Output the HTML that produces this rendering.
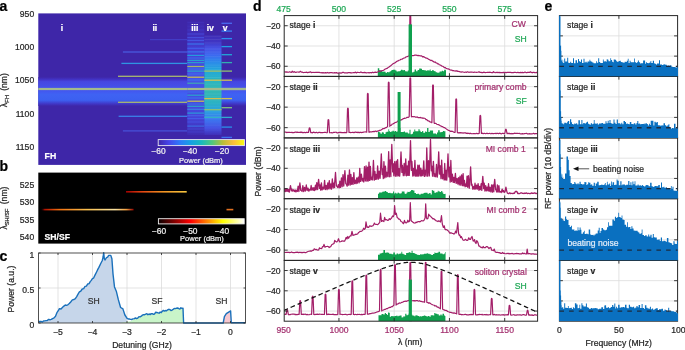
<!DOCTYPE html><html><head><meta charset="utf-8"><style>html,body{margin:0;padding:0;background:#fff;}svg{display:block;will-change:transform;}</style></head><body><svg width="685" height="350" viewBox="0 0 685 350" font-family="'Liberation Sans', sans-serif">
<defs>
<linearGradient id="gpar" x1="0" x2="1" y1="0" y2="0"><stop offset="0.0" stop-color="#3e26a8"/><stop offset="0.125" stop-color="#4646eb"/><stop offset="0.25" stop-color="#2d78fa"/><stop offset="0.375" stop-color="#16a0e4"/><stop offset="0.5" stop-color="#19b9be"/><stop offset="0.625" stop-color="#50c87d"/><stop offset="0.75" stop-color="#b9be37"/><stop offset="0.875" stop-color="#fcbe3c"/><stop offset="1.0" stop-color="#f9fb0e"/></linearGradient>
<linearGradient id="ghot" x1="0" x2="1" y1="0" y2="0"><stop offset="0.0" stop-color="#0a0000"/><stop offset="0.375" stop-color="#ff0000"/><stop offset="0.75" stop-color="#ffff00"/><stop offset="1.0" stop-color="#ffffff"/></linearGradient>
<linearGradient id="gband" x1="0" x2="0" y1="0" y2="1">
<stop offset="0" stop-color="#3e26a8"/><stop offset="0.08" stop-color="#4232c4"/><stop offset="0.16" stop-color="#4647e0"/>
<stop offset="0.45" stop-color="#4455ee"/><stop offset="0.6" stop-color="#3f62f3"/><stop offset="0.8" stop-color="#3c60f0"/>
<stop offset="0.92" stop-color="#4038c8"/><stop offset="1" stop-color="#3e26a8"/></linearGradient>
</defs>
<rect x="0" y="0" width="685" height="350" fill="#ffffff"/>
<rect x="38.3" y="13.4" width="207.7" height="151.5" fill="#3e26a8"/>
<rect x="38.3" y="77" width="207.7" height="29" fill="url(#gband)"/>
<rect x="38.3" y="87.9" width="207.7" height="2.2" fill="#a3ba8c"/>
<rect x="122.9" y="51.35" width="64.40" height="1.3" fill="#4a62e8" opacity="0.85"/>
<rect x="121.4" y="62.75" width="65.90" height="1.3" fill="#2f94e2" opacity="1"/>
<rect x="118" y="75.65" width="69.30" height="1.3" fill="#a6b872" opacity="1"/>
<rect x="118" y="101.65" width="69.30" height="1.3" fill="#a6b872" opacity="1"/>
<rect x="118.6" y="115.65" width="68.70" height="1.3" fill="#3a80e8" opacity="1"/>
<rect x="122.9" y="130.25" width="64.40" height="1.3" fill="#4a5ae4" opacity="0.8"/>
<rect x="150" y="39.1" width="37.3" height="1.1" fill="#4a50e0" opacity="0.6"/>
<linearGradient id="giii" x1="0" x2="0" y1="0" y2="1"><stop offset="0" stop-color="#3e28ac"/><stop offset="0.12" stop-color="#3f2eb8"/><stop offset="0.25" stop-color="#4240d4"/><stop offset="0.45" stop-color="#4452e6"/><stop offset="0.6" stop-color="#4452e6"/><stop offset="0.85" stop-color="#4444d8"/><stop offset="1" stop-color="#3e2cb0"/></linearGradient>
<rect x="187.3" y="21" width="17" height="114" fill="url(#giii)"/>
<rect x="187.3" y="22.00" width="17" height="1.2" fill="#4a40d0" opacity="0.25"/>
<rect x="187.3" y="25.60" width="17" height="1.2" fill="#4844cc" opacity="0.25"/>
<rect x="187.3" y="29.40" width="17" height="1.2" fill="#4848d8" opacity="0.35"/>
<rect x="187.3" y="33.40" width="17" height="1.2" fill="#4a55e6" opacity="0.6"/>
<rect x="187.3" y="37.00" width="17" height="1.2" fill="#4a5ae8" opacity="0.7"/>
<rect x="187.3" y="39.80" width="17" height="1.2" fill="#4660ee" opacity="0.75"/>
<rect x="187.3" y="43.40" width="17" height="1.2" fill="#3a78f0" opacity="0.9"/>
<rect x="187.3" y="47.70" width="17" height="1.2" fill="#4466f0" opacity="0.8"/>
<rect x="187.3" y="51.30" width="17" height="1.2" fill="#3a80f0" opacity="0.85"/>
<rect x="187.3" y="54.80" width="17" height="1.2" fill="#22a4dc" opacity="0.9"/>
<rect x="187.3" y="57.40" width="17" height="1.2" fill="#3a78f0" opacity="0.7"/>
<rect x="187.3" y="59.80" width="17" height="1.2" fill="#22aad0" opacity="0.9"/>
<rect x="187.3" y="62.00" width="17" height="1.2" fill="#28b0c8" opacity="0.8"/>
<rect x="187.3" y="65.90" width="17" height="1.2" fill="#a8c060" opacity="0.95"/>
<rect x="187.3" y="68.40" width="17" height="1.2" fill="#3a80f0" opacity="0.7"/>
<rect x="187.3" y="70.50" width="17" height="1.2" fill="#28b0c8" opacity="0.9"/>
<rect x="187.3" y="73.40" width="17" height="1.2" fill="#3a78f0" opacity="0.7"/>
<rect x="187.3" y="76.60" width="17" height="1.2" fill="#ccc050" opacity="1"/>
<rect x="187.3" y="79.40" width="17" height="1.2" fill="#3a80f0" opacity="0.7"/>
<rect x="187.3" y="82.60" width="17" height="1.2" fill="#40b8a8" opacity="0.85"/>
<rect x="187.3" y="91.40" width="17" height="1.2" fill="#3a78f0" opacity="0.7"/>
<rect x="187.3" y="94.60" width="17" height="1.2" fill="#28b0c8" opacity="0.9"/>
<rect x="187.3" y="97.40" width="17" height="1.2" fill="#3a80f0" opacity="0.7"/>
<rect x="187.3" y="100.60" width="17" height="1.2" fill="#ccc050" opacity="1"/>
<rect x="187.3" y="103.40" width="17" height="1.2" fill="#3a78f0" opacity="0.7"/>
<rect x="187.3" y="105.70" width="17" height="1.2" fill="#28b0c8" opacity="0.9"/>
<rect x="187.3" y="108.70" width="17" height="1.2" fill="#3a90e8" opacity="0.8"/>
<rect x="187.3" y="112.50" width="17" height="1.2" fill="#28a8d8" opacity="0.85"/>
<rect x="187.3" y="115.10" width="17" height="1.2" fill="#4a6aee" opacity="0.7"/>
<rect x="187.3" y="118.00" width="17" height="1.2" fill="#4466f0" opacity="0.7"/>
<rect x="187.3" y="121.40" width="17" height="1.2" fill="#4858e8" opacity="0.6"/>
<rect x="187.3" y="125.50" width="17" height="1.2" fill="#3a80f0" opacity="0.7"/>
<rect x="187.3" y="128.40" width="17" height="1.2" fill="#4a50e0" opacity="0.5"/>
<rect x="187.3" y="131.40" width="17" height="1.2" fill="#4a48d8" opacity="0.4"/>
<linearGradient id="giv" x1="0" x2="0" y1="35" y2="135" gradientUnits="userSpaceOnUse"><stop offset="0" stop-color="#3f2cb4"/><stop offset="0.07" stop-color="#4036c4"/><stop offset="0.13" stop-color="#4450e4"/><stop offset="0.2" stop-color="#3c68f0"/><stop offset="0.27" stop-color="#2c8aea"/><stop offset="0.35" stop-color="#22a6da"/><stop offset="0.45" stop-color="#2ab4c2"/><stop offset="0.55" stop-color="#34b8b2"/><stop offset="0.68" stop-color="#2ab2c4"/><stop offset="0.76" stop-color="#2aa0e0"/><stop offset="0.84" stop-color="#3a78f0"/><stop offset="0.93" stop-color="#4452e4"/><stop offset="1" stop-color="#4030b8"/></linearGradient>
<rect x="204.3" y="35" width="17.2" height="100" fill="url(#giv)"/>
<rect x="204.3" y="36.00" width="17.2" height="0.8" fill="#ffffff" opacity="0.07"/>
<rect x="204.3" y="39.11" width="17.2" height="0.8" fill="#ffffff" opacity="0.09"/>
<rect x="204.3" y="42.53" width="17.2" height="0.8" fill="#ffffff" opacity="0.08"/>
<rect x="204.3" y="45.91" width="17.2" height="0.8" fill="#ffffff" opacity="0.03"/>
<rect x="204.3" y="48.61" width="17.2" height="0.8" fill="#ffffff" opacity="0.10"/>
<rect x="204.3" y="51.58" width="17.2" height="0.8" fill="#ffffff" opacity="0.09"/>
<rect x="204.3" y="53.75" width="17.2" height="0.8" fill="#ffffff" opacity="0.06"/>
<rect x="204.3" y="56.12" width="17.2" height="0.8" fill="#ffffff" opacity="0.07"/>
<rect x="204.3" y="58.98" width="17.2" height="0.8" fill="#ffffff" opacity="0.03"/>
<rect x="204.3" y="61.31" width="17.2" height="0.8" fill="#ffffff" opacity="0.05"/>
<rect x="204.3" y="64.68" width="17.2" height="0.8" fill="#ffffff" opacity="0.08"/>
<rect x="204.3" y="66.92" width="17.2" height="0.8" fill="#ffffff" opacity="0.09"/>
<rect x="204.3" y="69.13" width="17.2" height="0.8" fill="#ffffff" opacity="0.07"/>
<rect x="204.3" y="71.32" width="17.2" height="0.8" fill="#ffffff" opacity="0.03"/>
<rect x="204.3" y="74.63" width="17.2" height="0.8" fill="#ffffff" opacity="0.04"/>
<rect x="204.3" y="76.95" width="17.2" height="0.8" fill="#ffffff" opacity="0.10"/>
<rect x="204.3" y="80.26" width="17.2" height="0.8" fill="#ffffff" opacity="0.05"/>
<rect x="204.3" y="83.70" width="17.2" height="0.8" fill="#ffffff" opacity="0.07"/>
<rect x="204.3" y="86.72" width="17.2" height="0.8" fill="#ffffff" opacity="0.04"/>
<rect x="204.3" y="90.13" width="17.2" height="0.8" fill="#ffffff" opacity="0.08"/>
<rect x="204.3" y="93.58" width="17.2" height="0.8" fill="#ffffff" opacity="0.09"/>
<rect x="204.3" y="96.03" width="17.2" height="0.8" fill="#ffffff" opacity="0.06"/>
<rect x="204.3" y="98.28" width="17.2" height="0.8" fill="#ffffff" opacity="0.04"/>
<rect x="204.3" y="100.37" width="17.2" height="0.8" fill="#ffffff" opacity="0.05"/>
<rect x="204.3" y="103.28" width="17.2" height="0.8" fill="#ffffff" opacity="0.03"/>
<rect x="204.3" y="106.30" width="17.2" height="0.8" fill="#ffffff" opacity="0.05"/>
<rect x="204.3" y="108.76" width="17.2" height="0.8" fill="#ffffff" opacity="0.09"/>
<rect x="204.3" y="111.48" width="17.2" height="0.8" fill="#ffffff" opacity="0.05"/>
<rect x="204.3" y="114.20" width="17.2" height="0.8" fill="#ffffff" opacity="0.08"/>
<rect x="204.3" y="116.29" width="17.2" height="0.8" fill="#ffffff" opacity="0.10"/>
<rect x="204.3" y="118.32" width="17.2" height="0.8" fill="#ffffff" opacity="0.08"/>
<rect x="204.3" y="121.59" width="17.2" height="0.8" fill="#ffffff" opacity="0.03"/>
<rect x="204.3" y="124.77" width="17.2" height="0.8" fill="#ffffff" opacity="0.06"/>
<rect x="204.3" y="127.64" width="17.2" height="0.8" fill="#ffffff" opacity="0.03"/>
<rect x="204.3" y="129.71" width="17.2" height="0.8" fill="#ffffff" opacity="0.04"/>
<rect x="204.3" y="70.44999999999999" width="17.2" height="1.3" fill="#a0c068"/>
<rect x="204.3" y="79.55" width="17.2" height="1.3" fill="#d0c050"/>
<rect x="204.3" y="97.94999999999999" width="17.2" height="1.3" fill="#d0c050"/>
<rect x="204.3" y="109.05" width="17.2" height="1.3" fill="#90c070"/>
<rect x="204.3" y="116.75" width="17.2" height="1.3" fill="#30b0c8"/>
<rect x="221.5" y="22.65" width="10.5" height="1.3" fill="#4a6af0"/>
<rect x="221.5" y="30.45" width="10.5" height="1.3" fill="#3a80f0"/>
<rect x="221.5" y="37.95" width="10.5" height="1.3" fill="#2a90f0"/>
<rect x="221.5" y="45.95" width="10.5" height="1.3" fill="#20a0e8"/>
<rect x="221.5" y="54.05" width="10.5" height="1.3" fill="#20a8d8"/>
<rect x="221.5" y="61.95" width="10.5" height="1.3" fill="#30b0b0"/>
<rect x="221.5" y="70.45" width="10.5" height="1.3" fill="#90c070"/>
<rect x="221.5" y="79.55" width="10.5" height="1.3" fill="#d0c050"/>
<rect x="221.5" y="97.95" width="10.5" height="1.3" fill="#d0c050"/>
<rect x="221.5" y="107.05" width="10.5" height="1.3" fill="#80c080"/>
<rect x="221.5" y="116.75" width="10.5" height="1.3" fill="#30aad0"/>
<rect x="221.5" y="126.45" width="10.5" height="1.3" fill="#2a90e8"/>
<rect x="221.5" y="136.75" width="10.5" height="1.3" fill="#4070f0"/>
<rect x="187.3" y="87.9" width="58.70" height="2.2" fill="#a3ba8c"/>
<text x="62.00" y="31.20" font-size="8.6" text-anchor="middle" fill="#ffffff" stroke="#ffffff" stroke-width="0.22" font-weight="bold" >i</text>
<text x="154.80" y="31.20" font-size="8.6" text-anchor="middle" fill="#ffffff" stroke="#ffffff" stroke-width="0.22" font-weight="bold" >ii</text>
<text x="194.80" y="31.20" font-size="8.6" text-anchor="middle" fill="#ffffff" stroke="#ffffff" stroke-width="0.22" font-weight="bold" >iii</text>
<text x="210.30" y="31.20" font-size="8.6" text-anchor="middle" fill="#ffffff" stroke="#ffffff" stroke-width="0.22" font-weight="bold" >iv</text>
<text x="225.20" y="31.20" font-size="8.6" text-anchor="middle" fill="#ffffff" stroke="#ffffff" stroke-width="0.22" font-weight="bold" >v</text>
<text x="44.60" y="159.20" font-size="8.7" text-anchor="start" fill="#ffffff" stroke="#ffffff" stroke-width="0.22" font-weight="bold" >FH</text>
<rect x="158.2" y="139.6" width="86.2" height="6" fill="url(#gpar)" stroke="#e8e8f0" stroke-width="0.9"/>
<text x="158.50" y="154.30" font-size="8.4" text-anchor="middle" fill="#f2f2f2" stroke="#f2f2f2" stroke-width="0.22" font-weight="normal" >−60</text>
<text x="190.00" y="154.30" font-size="8.4" text-anchor="middle" fill="#f2f2f2" stroke="#f2f2f2" stroke-width="0.22" font-weight="normal" >−40</text>
<text x="222.00" y="154.30" font-size="8.4" text-anchor="middle" fill="#f2f2f2" stroke="#f2f2f2" stroke-width="0.22" font-weight="normal" >−20</text>
<text x="201.00" y="162.70" font-size="7.5" text-anchor="middle" fill="#f2f2f2" stroke="#f2f2f2" stroke-width="0.22" font-weight="normal" >Power (dBm)</text>
<text x="34.20" y="16.60" font-size="8.6" text-anchor="end" fill="#262626" stroke="#262626" stroke-width="0.22" font-weight="normal" >950</text>
<text x="34.20" y="49.92" font-size="8.6" text-anchor="end" fill="#262626" stroke="#262626" stroke-width="0.22" font-weight="normal" >1000</text>
<text x="34.20" y="83.25" font-size="8.6" text-anchor="end" fill="#262626" stroke="#262626" stroke-width="0.22" font-weight="normal" >1050</text>
<text x="34.20" y="116.57" font-size="8.6" text-anchor="end" fill="#262626" stroke="#262626" stroke-width="0.22" font-weight="normal" >1100</text>
<text x="34.20" y="149.90" font-size="8.6" text-anchor="end" fill="#262626" stroke="#262626" stroke-width="0.22" font-weight="normal" >1150</text>
<text transform="translate(7.3,90.2) rotate(-90)" font-size="8.6" text-anchor="middle" fill="#262626" stroke="#262626" stroke-width="0.22">λ<tspan font-size="6.2" dy="2">FH</tspan><tspan dy="-2" dx="1.5"> (nm)</tspan></text>
<rect x="38.3" y="172.6" width="208.10000000000002" height="71.0" fill="#000000"/>
<linearGradient id="gl1" x1="0" x2="1"><stop offset="0" stop-color="#400000" stop-opacity="0"/><stop offset="0.04" stop-color="#b01000"/><stop offset="0.2" stop-color="#f07010"/><stop offset="0.5" stop-color="#f8c050"/><stop offset="0.8" stop-color="#f8e0a0"/><stop offset="0.92" stop-color="#f0a040"/><stop offset="1" stop-color="#900000"/></linearGradient>
<rect x="41" y="208.8" width="92.6" height="1.6" fill="url(#gl1)"/>
<linearGradient id="gl2" x1="0" x2="1"><stop offset="0" stop-color="#a00000"/><stop offset="0.25" stop-color="#e04010"/><stop offset="0.6" stop-color="#f09020"/><stop offset="1" stop-color="#f8c840"/></linearGradient>
<rect x="126" y="191" width="60.7" height="1.6" fill="url(#gl2)"/>
<rect x="226.5" y="208.8" width="6.8" height="1.6" fill="#e07020"/>
<text x="44.60" y="240.20" font-size="8.6" text-anchor="start" fill="#ffffff" stroke="#ffffff" stroke-width="0.22" font-weight="bold" >SH/SF</text>
<rect x="158.4" y="218.7" width="85.8" height="5.2" fill="url(#ghot)" stroke="#f0f0f0" stroke-width="0.9"/>
<text x="159.00" y="234.00" font-size="8.4" text-anchor="middle" fill="#f2f2f2" stroke="#f2f2f2" stroke-width="0.22" font-weight="normal" >−60</text>
<text x="190.40" y="234.00" font-size="8.4" text-anchor="middle" fill="#f2f2f2" stroke="#f2f2f2" stroke-width="0.22" font-weight="normal" >−50</text>
<text x="222.00" y="234.00" font-size="8.4" text-anchor="middle" fill="#f2f2f2" stroke="#f2f2f2" stroke-width="0.22" font-weight="normal" >−40</text>
<text x="202.00" y="241.40" font-size="7.5" text-anchor="middle" fill="#f2f2f2" stroke="#f2f2f2" stroke-width="0.22" font-weight="normal" >Power (dBm)</text>
<text x="34.20" y="188.30" font-size="8.6" text-anchor="end" fill="#262626" stroke="#262626" stroke-width="0.22" font-weight="normal" >525</text>
<text x="34.20" y="205.00" font-size="8.6" text-anchor="end" fill="#262626" stroke="#262626" stroke-width="0.22" font-weight="normal" >530</text>
<text x="34.20" y="222.60" font-size="8.6" text-anchor="end" fill="#262626" stroke="#262626" stroke-width="0.22" font-weight="normal" >535</text>
<text x="34.20" y="240.20" font-size="8.6" text-anchor="end" fill="#262626" stroke="#262626" stroke-width="0.22" font-weight="normal" >540</text>
<text transform="translate(7.3,208) rotate(-90)" font-size="8.6" text-anchor="middle" fill="#262626" stroke="#262626" stroke-width="0.22">λ<tspan font-size="5.6" dy="2">SH/SF</tspan><tspan dy="-2" dx="2"> (nm)</tspan></text>
<text x="-0.60" y="10.60" font-size="14" text-anchor="start" fill="#000000" stroke="#000000" stroke-width="0.22" font-weight="bold" >a</text>
<text x="-0.60" y="171.00" font-size="14" text-anchor="start" fill="#000000" stroke="#000000" stroke-width="0.22" font-weight="bold" >b</text>
<text x="-0.60" y="260.80" font-size="14" text-anchor="start" fill="#000000" stroke="#000000" stroke-width="0.22" font-weight="bold" >c</text>
<text x="252.90" y="10.60" font-size="14" text-anchor="start" fill="#000000" stroke="#000000" stroke-width="0.22" font-weight="bold" >d</text>
<text x="544.40" y="10.90" font-size="14" text-anchor="start" fill="#000000" stroke="#000000" stroke-width="0.22" font-weight="bold" >e</text>
<line x1="58.00" y1="253.0" x2="58.00" y2="323.0" stroke="#dcdcdc" stroke-width="0.8"/>
<line x1="92.50" y1="253.0" x2="92.50" y2="323.0" stroke="#dcdcdc" stroke-width="0.8"/>
<line x1="127.00" y1="253.0" x2="127.00" y2="323.0" stroke="#dcdcdc" stroke-width="0.8"/>
<line x1="161.50" y1="253.0" x2="161.50" y2="323.0" stroke="#dcdcdc" stroke-width="0.8"/>
<line x1="196.00" y1="253.0" x2="196.00" y2="323.0" stroke="#dcdcdc" stroke-width="0.8"/>
<line x1="230.50" y1="253.0" x2="230.50" y2="323.0" stroke="#dcdcdc" stroke-width="0.8"/>
<line x1="38.6" y1="288.00" x2="245.5" y2="288.00" stroke="#dcdcdc" stroke-width="0.8"/>
<polygon points="38.60,323.00 38.60,321.60 39.82,321.36 41.04,321.44 42.26,322.03 43.48,320.97 44.70,320.90 46.00,320.62 47.30,320.47 48.60,319.37 49.90,319.72 51.20,319.40 52.63,318.59 54.07,317.85 55.50,316.20 56.90,312.64 58.30,310.70 59.40,308.60 61.00,309.00 63.10,306.80 64.20,305.91 65.30,304.98 66.40,305.30 67.83,304.82 69.27,303.49 70.70,302.00 72.35,299.83 74.00,299.50 75.35,298.56 76.70,296.63 78.05,294.11 79.40,291.90 80.83,291.03 82.27,289.01 83.70,288.60 85.05,286.38 86.40,286.16 87.75,283.97 89.10,283.60 90.20,281.63 91.30,280.38 92.40,278.61 93.50,278.20 95.10,274.88 96.70,271.70 97.80,269.43 98.90,267.40 101.00,263.00 102.30,260.50 103.10,257.00 103.70,252.80 104.30,258.50 105.00,260.00 106.50,257.60 107.60,257.18 108.70,255.40 110.80,255.40 111.90,258.70 113.00,273.90 114.50,286.90 116.30,291.20 118.40,299.90 120.60,307.50 121.70,308.09 122.80,308.60 124.90,315.00 127.10,318.30 127.20,318.40 127.20,323.00" fill="#c6d6ea"/>
<polygon points="120.00,323.00 130.40,321.20 143.00,314.90 143.56,314.59 144.70,314.70 145.79,314.18 146.87,313.64 147.96,314.75 149.04,313.95 150.13,314.61 151.21,313.64 152.30,313.70 153.44,314.34 154.58,313.97 155.72,312.26 156.86,312.46 158.00,312.80 159.07,313.21 160.14,312.09 161.21,312.68 162.29,311.30 163.36,310.39 164.43,311.06 165.50,310.50 166.59,310.84 167.67,309.77 168.76,309.29 169.84,309.57 170.93,310.55 172.01,310.02 173.10,309.40 174.24,308.55 175.38,308.62 176.52,308.20 177.66,307.97 178.80,308.60 179.85,309.03 180.90,307.82 181.95,308.41 183.00,308.20 183.30,308.20 183.30,323.00" fill="#c9f5c9"/>
<polygon points="223.20,323.00 224.40,316.60 226.30,313.70 229.10,311.80 230.60,310.90 231.20,323.00" fill="#f7c8d0"/>
<polyline points="38.60,321.60 39.82,321.36 41.04,321.44 42.26,322.03 43.48,320.97 44.70,320.90 46.00,320.62 47.30,320.47 48.60,319.37 49.90,319.72 51.20,319.40 52.63,318.59 54.07,317.85 55.50,316.20 56.90,312.64 58.30,310.70 59.40,308.60 61.00,309.00 63.10,306.80 64.20,305.91 65.30,304.98 66.40,305.30 67.83,304.82 69.27,303.49 70.70,302.00 72.35,299.83 74.00,299.50 75.35,298.56 76.70,296.63 78.05,294.11 79.40,291.90 80.83,291.03 82.27,289.01 83.70,288.60 85.05,286.38 86.40,286.16 87.75,283.97 89.10,283.60 90.20,281.63 91.30,280.38 92.40,278.61 93.50,278.20 95.10,274.88 96.70,271.70 97.80,269.43 98.90,267.40 101.00,263.00 102.30,260.50 103.10,257.00 103.70,252.80 104.30,258.50 105.00,260.00 106.50,257.60 107.60,257.18 108.70,255.40 110.80,255.40 111.90,258.70 113.00,273.90 114.50,286.90 116.30,291.20 118.40,299.90 120.60,307.50 121.70,308.09 122.80,308.60 124.90,315.00 127.10,318.30 128.20,318.95 129.30,319.03 130.40,319.40 131.67,319.49 132.93,318.92 134.20,318.80 135.40,317.85 136.60,318.60 137.80,318.04 139.00,316.60 140.14,316.83 141.28,316.21 142.42,315.13 143.56,314.59 144.70,314.70 145.79,314.18 146.87,313.64 147.96,314.75 149.04,313.95 150.13,314.61 151.21,313.64 152.30,313.70 153.44,314.34 154.58,313.97 155.72,312.26 156.86,312.46 158.00,312.80 159.07,313.21 160.14,312.09 161.21,312.68 162.29,311.30 163.36,310.39 164.43,311.06 165.50,310.50 166.59,310.84 167.67,309.77 168.76,309.29 169.84,309.57 170.93,310.55 172.01,310.02 173.10,309.40 174.24,308.55 175.38,308.62 176.52,308.20 177.66,307.97 178.80,308.60 179.85,309.03 180.90,307.82 181.95,308.41 183.00,308.20 183.60,323.00 223.20,323.00 224.40,316.60 226.30,313.70 229.10,311.80 230.60,310.90 231.30,322.80 245.30,322.80" fill="none" stroke="#1a70bb" stroke-width="1.4" stroke-linejoin="round"/>
<rect x="38.6" y="253.0" width="206.9" height="70.0" fill="none" stroke="#262626" stroke-width="0.8"/>
<line x1="58.00" y1="323.0" x2="58.00" y2="321.00" stroke="#262626" stroke-width="0.8"/>
<line x1="58.00" y1="253.0" x2="58.00" y2="255.00" stroke="#262626" stroke-width="0.8"/>
<text x="58.00" y="334.70" font-size="8.6" text-anchor="middle" fill="#262626" stroke="#262626" stroke-width="0.22" font-weight="normal" >−5</text>
<line x1="92.50" y1="323.0" x2="92.50" y2="321.00" stroke="#262626" stroke-width="0.8"/>
<line x1="92.50" y1="253.0" x2="92.50" y2="255.00" stroke="#262626" stroke-width="0.8"/>
<text x="92.50" y="334.70" font-size="8.6" text-anchor="middle" fill="#262626" stroke="#262626" stroke-width="0.22" font-weight="normal" >−4</text>
<line x1="127.00" y1="323.0" x2="127.00" y2="321.00" stroke="#262626" stroke-width="0.8"/>
<line x1="127.00" y1="253.0" x2="127.00" y2="255.00" stroke="#262626" stroke-width="0.8"/>
<text x="127.00" y="334.70" font-size="8.6" text-anchor="middle" fill="#262626" stroke="#262626" stroke-width="0.22" font-weight="normal" >−3</text>
<line x1="161.50" y1="323.0" x2="161.50" y2="321.00" stroke="#262626" stroke-width="0.8"/>
<line x1="161.50" y1="253.0" x2="161.50" y2="255.00" stroke="#262626" stroke-width="0.8"/>
<text x="161.50" y="334.70" font-size="8.6" text-anchor="middle" fill="#262626" stroke="#262626" stroke-width="0.22" font-weight="normal" >−2</text>
<line x1="196.00" y1="323.0" x2="196.00" y2="321.00" stroke="#262626" stroke-width="0.8"/>
<line x1="196.00" y1="253.0" x2="196.00" y2="255.00" stroke="#262626" stroke-width="0.8"/>
<text x="196.00" y="334.70" font-size="8.6" text-anchor="middle" fill="#262626" stroke="#262626" stroke-width="0.22" font-weight="normal" >−1</text>
<line x1="230.50" y1="323.0" x2="230.50" y2="321.00" stroke="#262626" stroke-width="0.8"/>
<line x1="230.50" y1="253.0" x2="230.50" y2="255.00" stroke="#262626" stroke-width="0.8"/>
<text x="230.50" y="334.70" font-size="8.6" text-anchor="middle" fill="#262626" stroke="#262626" stroke-width="0.22" font-weight="normal" >0</text>
<text x="34.20" y="327.60" font-size="8.6" text-anchor="end" fill="#262626" stroke="#262626" stroke-width="0.22" font-weight="normal" >0</text>
<line x1="38.6" y1="323.00" x2="40.6" y2="323.00" stroke="#262626" stroke-width="0.8"/>
<line x1="245.5" y1="323.00" x2="243.5" y2="323.00" stroke="#262626" stroke-width="0.8"/>
<text x="34.20" y="292.60" font-size="8.6" text-anchor="end" fill="#262626" stroke="#262626" stroke-width="0.22" font-weight="normal" >0.5</text>
<line x1="38.6" y1="288.00" x2="40.6" y2="288.00" stroke="#262626" stroke-width="0.8"/>
<line x1="245.5" y1="288.00" x2="243.5" y2="288.00" stroke="#262626" stroke-width="0.8"/>
<text x="34.20" y="257.60" font-size="8.6" text-anchor="end" fill="#262626" stroke="#262626" stroke-width="0.22" font-weight="normal" >1</text>
<line x1="38.6" y1="253.00" x2="40.6" y2="253.00" stroke="#262626" stroke-width="0.8"/>
<line x1="245.5" y1="253.00" x2="243.5" y2="253.00" stroke="#262626" stroke-width="0.8"/>
<text x="142.00" y="347.90" font-size="8.6" text-anchor="middle" fill="#262626" stroke="#262626" stroke-width="0.22" font-weight="normal" >Detuning (GHz)</text>
<text transform="translate(14.4,289) rotate(-90)" font-size="8.6" text-anchor="middle" fill="#262626" stroke="#262626" stroke-width="0.22">Power (a.u.)</text>
<text x="93.70" y="303.70" font-size="8.6" text-anchor="middle" fill="#333333" stroke="#333333" stroke-width="0.22" font-weight="normal" >SH</text>
<text x="157.00" y="303.60" font-size="8.6" text-anchor="middle" fill="#333333" stroke="#333333" stroke-width="0.22" font-weight="normal" >SF</text>
<text x="221.50" y="303.60" font-size="8.6" text-anchor="middle" fill="#333333" stroke="#333333" stroke-width="0.22" font-weight="normal" >SH</text>
<defs><clipPath id="cd0"><rect x="284.2" y="15.6" width="253.40000000000003" height="60.800000000000004"/></clipPath><clipPath id="cd1"><rect x="284.2" y="76.4" width="253.40000000000003" height="61.5"/></clipPath><clipPath id="cd2"><rect x="284.2" y="137.9" width="253.40000000000003" height="60.79999999999998"/></clipPath><clipPath id="cd3"><rect x="284.2" y="198.7" width="253.40000000000003" height="61.69999999999999"/></clipPath><clipPath id="cd4"><rect x="284.2" y="260.4" width="253.40000000000003" height="60.80000000000001"/></clipPath></defs>
<line x1="338.95" y1="15.6" x2="338.95" y2="76.4" stroke="#dcdcdc" stroke-width="0.8"/>
<line x1="394.20" y1="15.6" x2="394.20" y2="76.4" stroke="#dcdcdc" stroke-width="0.8"/>
<line x1="449.45" y1="15.6" x2="449.45" y2="76.4" stroke="#dcdcdc" stroke-width="0.8"/>
<line x1="504.70" y1="15.6" x2="504.70" y2="76.4" stroke="#dcdcdc" stroke-width="0.8"/>
<line x1="284.2" y1="25.73" x2="537.6" y2="25.73" stroke="#dcdcdc" stroke-width="0.8"/>
<line x1="284.2" y1="46.00" x2="537.6" y2="46.00" stroke="#dcdcdc" stroke-width="0.8"/>
<line x1="284.2" y1="66.27" x2="537.6" y2="66.27" stroke="#dcdcdc" stroke-width="0.8"/>
<line x1="338.95" y1="76.4" x2="338.95" y2="137.9" stroke="#dcdcdc" stroke-width="0.8"/>
<line x1="394.20" y1="76.4" x2="394.20" y2="137.9" stroke="#dcdcdc" stroke-width="0.8"/>
<line x1="449.45" y1="76.4" x2="449.45" y2="137.9" stroke="#dcdcdc" stroke-width="0.8"/>
<line x1="504.70" y1="76.4" x2="504.70" y2="137.9" stroke="#dcdcdc" stroke-width="0.8"/>
<line x1="284.2" y1="86.65" x2="537.6" y2="86.65" stroke="#dcdcdc" stroke-width="0.8"/>
<line x1="284.2" y1="107.15" x2="537.6" y2="107.15" stroke="#dcdcdc" stroke-width="0.8"/>
<line x1="284.2" y1="127.65" x2="537.6" y2="127.65" stroke="#dcdcdc" stroke-width="0.8"/>
<line x1="338.95" y1="137.9" x2="338.95" y2="198.7" stroke="#dcdcdc" stroke-width="0.8"/>
<line x1="394.20" y1="137.9" x2="394.20" y2="198.7" stroke="#dcdcdc" stroke-width="0.8"/>
<line x1="449.45" y1="137.9" x2="449.45" y2="198.7" stroke="#dcdcdc" stroke-width="0.8"/>
<line x1="504.70" y1="137.9" x2="504.70" y2="198.7" stroke="#dcdcdc" stroke-width="0.8"/>
<line x1="284.2" y1="148.03" x2="537.6" y2="148.03" stroke="#dcdcdc" stroke-width="0.8"/>
<line x1="284.2" y1="168.30" x2="537.6" y2="168.30" stroke="#dcdcdc" stroke-width="0.8"/>
<line x1="284.2" y1="188.57" x2="537.6" y2="188.57" stroke="#dcdcdc" stroke-width="0.8"/>
<line x1="338.95" y1="198.7" x2="338.95" y2="260.4" stroke="#dcdcdc" stroke-width="0.8"/>
<line x1="394.20" y1="198.7" x2="394.20" y2="260.4" stroke="#dcdcdc" stroke-width="0.8"/>
<line x1="449.45" y1="198.7" x2="449.45" y2="260.4" stroke="#dcdcdc" stroke-width="0.8"/>
<line x1="504.70" y1="198.7" x2="504.70" y2="260.4" stroke="#dcdcdc" stroke-width="0.8"/>
<line x1="284.2" y1="208.98" x2="537.6" y2="208.98" stroke="#dcdcdc" stroke-width="0.8"/>
<line x1="284.2" y1="229.55" x2="537.6" y2="229.55" stroke="#dcdcdc" stroke-width="0.8"/>
<line x1="284.2" y1="250.12" x2="537.6" y2="250.12" stroke="#dcdcdc" stroke-width="0.8"/>
<line x1="338.95" y1="260.4" x2="338.95" y2="321.2" stroke="#dcdcdc" stroke-width="0.8"/>
<line x1="394.20" y1="260.4" x2="394.20" y2="321.2" stroke="#dcdcdc" stroke-width="0.8"/>
<line x1="449.45" y1="260.4" x2="449.45" y2="321.2" stroke="#dcdcdc" stroke-width="0.8"/>
<line x1="504.70" y1="260.4" x2="504.70" y2="321.2" stroke="#dcdcdc" stroke-width="0.8"/>
<line x1="284.2" y1="270.53" x2="537.6" y2="270.53" stroke="#dcdcdc" stroke-width="0.8"/>
<line x1="284.2" y1="290.80" x2="537.6" y2="290.80" stroke="#dcdcdc" stroke-width="0.8"/>
<line x1="284.2" y1="311.07" x2="537.6" y2="311.07" stroke="#dcdcdc" stroke-width="0.8"/>
<polygon clip-path="url(#cd0)" points="377.80,76.40 377.80,68.31 379.28,68.31 379.28,70.15 380.84,70.15 380.84,70.76 382.30,70.76 382.30,71.83 383.55,71.83 383.55,71.45 384.44,71.45 384.44,71.86 385.65,71.86 385.65,73.11 386.81,73.11 386.81,72.12 387.83,72.12 387.83,72.18 389.58,72.18 389.58,71.48 390.59,71.48 390.59,70.99 391.42,70.99 391.42,69.90 392.87,69.90 392.87,69.79 394.40,69.79 394.40,69.68 395.42,69.68 395.42,70.46 396.55,70.46 396.55,71.61 398.19,71.61 398.19,71.30 399.98,71.30 399.98,70.76 400.96,70.76 400.96,69.63 402.43,69.63 402.43,70.35 404.15,70.35 404.15,70.07 405.05,70.07 405.05,71.35 406.50,71.35 406.50,71.54 407.75,71.54 407.75,70.48 409.34,70.48 409.34,71.45 411.12,71.45 411.12,72.77 412.26,72.77 412.26,72.26 413.54,72.26 413.54,71.67 414.61,71.67 414.61,69.41 416.05,69.41 416.05,71.30 417.58,71.30 417.58,70.12 419.14,70.12 419.14,68.51 420.93,68.51 420.93,68.81 422.01,68.81 422.01,69.94 423.68,69.94 423.68,70.29 424.68,70.29 424.68,70.21 425.78,70.21 425.78,70.66 427.28,70.66 427.28,70.35 428.48,70.35 428.48,70.50 429.74,70.50 429.74,69.38 430.67,69.38 430.67,70.96 432.22,70.96 432.22,70.01 433.60,70.01 433.60,71.07 434.52,71.07 434.52,71.26 435.70,71.26 435.70,72.13 437.21,72.13 437.21,72.78 438.79,72.78 438.79,72.45 439.62,72.45 439.62,71.50 440.68,71.50 440.68,71.50 441.84,71.50 441.84,70.71 443.03,70.71 443.03,71.23 444.17,71.23 444.17,69.86 445.74,69.86 445.74,70.54 446.00,70.54 446.00,76.40" fill="#0fa04e"/>
<polyline clip-path="url(#cd0)" points="284.20,72.00 285.10,71.81 286.00,72.11 286.90,71.87 287.80,72.24 288.70,72.08 289.60,71.79 290.50,72.15 291.40,72.29 292.30,71.17 293.20,72.29 294.10,71.63 295.00,72.17 295.90,72.46 296.80,72.00 297.70,71.99 298.60,72.20 299.50,72.15 300.40,71.31 301.30,72.12 302.20,72.12 303.10,72.54 304.00,72.48 304.90,72.47 305.80,72.33 306.70,72.18 307.60,72.61 308.50,72.31 309.40,72.34 310.30,71.82 311.20,72.57 312.10,72.45 313.00,72.49 313.90,72.31 314.80,72.53 315.70,72.32 316.60,72.43 317.50,72.45 318.40,72.44 319.30,72.31 320.20,72.75 321.10,72.71 322.00,72.85 322.90,72.57 323.80,72.92 324.70,72.88 325.60,72.59 326.50,72.91 327.40,72.44 328.30,72.88 329.20,72.93 330.10,72.60 331.00,72.71 331.90,72.51 332.80,73.02 333.70,72.95 334.60,72.66 335.50,72.84 336.40,72.56 337.30,73.06 338.20,73.10 339.10,72.84 340.00,72.90 340.91,73.10 341.82,72.90 342.73,72.33 343.64,72.46 344.55,72.94 345.45,72.90 346.36,72.78 347.27,73.07 348.18,72.58 349.09,72.52 350.00,72.58 350.91,72.88 351.82,72.81 352.73,72.77 353.64,72.56 354.55,72.68 355.45,72.06 356.36,72.96 357.27,72.26 358.18,72.46 359.09,72.51 360.00,72.55 360.91,71.96 361.82,72.57 362.73,72.55 363.64,72.69 364.55,72.41 365.45,72.65 366.36,72.92 367.27,72.75 368.18,72.65 369.09,72.80 370.00,72.60 370.88,72.48 371.75,72.82 372.62,72.23 373.50,72.64 374.38,72.38 375.25,72.09 376.12,72.30 377.00,72.30 377.88,71.95 378.75,70.93 379.62,71.29 380.50,71.34 381.38,70.84 382.25,70.51 383.12,70.37 384.00,70.00 385.00,69.15 386.00,68.80 387.00,68.43 388.00,67.60 389.00,66.93 390.00,66.20 391.00,65.47 392.00,64.60 393.00,63.80 394.00,63.23 395.00,62.84 396.00,62.00 397.00,61.20 398.00,60.89 399.00,60.29 400.00,60.00 401.00,59.25 402.00,59.27 403.00,58.48 404.00,58.00 405.00,57.82 406.00,56.92 407.00,56.73 408.00,56.20 409.00,55.88 409.30,55.80 409.95,14.00 410.30,13.60 410.65,14.00 411.30,55.80 412.00,55.50 413.00,55.53 414.00,55.41 415.00,55.20 416.00,55.20 417.00,55.33 418.00,55.57 419.00,55.45 420.00,55.80 420.83,55.95 421.67,55.90 422.50,56.91 423.33,56.64 424.17,56.94 425.00,57.50 425.83,58.04 426.67,58.04 427.50,58.51 428.33,59.14 429.17,59.51 430.00,60.00 430.86,60.58 431.71,60.26 432.57,61.14 433.43,61.44 434.29,62.21 435.14,61.96 436.00,62.80 436.83,62.98 437.67,63.81 438.50,63.91 439.33,64.72 440.17,65.04 441.00,65.40 441.83,66.06 442.67,66.23 443.50,66.73 444.33,67.57 445.17,67.56 446.00,68.30 447.00,68.78 448.00,68.91 449.00,69.15 450.00,69.80 450.86,70.12 451.71,70.02 452.57,70.70 453.43,70.60 454.29,71.01 455.14,70.83 456.00,71.30 456.88,70.61 457.75,71.49 458.62,71.37 459.50,71.65 460.38,71.95 461.25,72.07 462.12,71.74 463.00,72.00 463.89,72.26 464.79,72.29 465.68,72.00 466.58,72.35 467.47,71.81 468.37,72.19 469.26,72.30 470.16,71.97 471.05,72.21 471.95,72.03 472.84,72.26 473.74,72.40 474.63,72.19 475.53,72.24 476.42,72.34 477.32,72.25 478.21,72.07 479.11,71.73 480.00,72.40 480.90,72.23 481.80,72.66 482.70,72.65 483.60,72.19 484.50,72.37 485.40,72.58 486.30,72.51 487.20,72.38 488.10,72.42 489.00,72.45 489.90,72.16 490.80,72.49 491.70,72.58 492.60,72.74 493.50,71.68 494.40,72.50 495.30,72.75 496.20,72.29 497.10,72.65 498.00,72.20 498.90,72.66 499.80,72.45 500.70,72.55 501.60,72.59 502.50,72.63 503.40,72.33 504.30,72.66 505.20,72.31 506.10,72.72 507.00,72.38 507.90,72.28 508.80,72.36 509.70,72.38 510.60,72.33 511.50,72.64 512.40,72.62 513.30,72.61 514.20,72.33 515.10,72.26 516.00,72.47 516.90,72.76 517.80,72.24 518.70,72.59 519.60,72.54 520.50,72.46 521.40,72.63 522.30,72.45 523.20,72.63 524.10,72.56 525.00,72.04 525.90,72.53 526.80,72.61 527.70,72.32 528.60,72.37 529.50,72.47 530.40,71.85 531.30,72.37 532.20,72.79 533.10,72.35 534.00,72.36 534.90,72.75 535.80,72.71 536.70,72.35 537.60,72.60" fill="none" stroke="#a31e68" stroke-width="1.2" stroke-linejoin="round"/>
<rect x="408.60" y="24.40" width="3.4" height="52.00" fill="#0fa04e"/>
<polygon clip-path="url(#cd1)" points="377.90,137.90 377.90,131.83 379.60,131.83 379.60,132.53 380.50,132.53 380.50,133.67 381.82,133.67 381.82,132.36 382.99,132.36 382.99,132.52 383.92,132.52 383.92,133.94 385.56,133.94 385.56,132.14 386.57,132.14 386.57,131.79 388.34,131.79 388.34,129.32 389.16,129.32 389.16,131.17 390.13,131.17 390.13,131.89 391.09,131.89 391.09,131.40 392.46,131.40 392.46,130.87 393.85,130.87 393.85,131.39 394.89,131.39 394.89,130.94 396.12,130.94 396.12,131.70 397.73,131.70 397.73,130.92 398.62,130.92 398.62,131.22 399.47,131.22 399.47,127.89 400.47,127.89 400.47,132.11 401.95,132.11 401.95,131.89 403.71,131.89 403.71,131.56 405.03,131.56 405.03,132.42 406.21,132.42 406.21,132.53 407.86,132.53 407.86,133.40 409.48,133.40 409.48,129.78 410.53,129.78 410.53,134.17 411.92,134.17 411.92,133.80 413.04,133.80 413.04,131.79 414.29,131.79 414.29,129.51 415.26,129.51 415.26,131.19 417.04,131.19 417.04,131.36 418.42,131.36 418.42,129.25 419.60,129.25 419.60,130.66 420.58,130.66 420.58,132.00 422.11,132.00 422.11,131.12 423.28,131.12 423.28,132.65 425.04,132.65 425.04,131.43 426.28,131.43 426.28,131.88 427.08,131.88 427.08,127.92 428.43,127.92 428.43,131.98 429.74,131.98 429.74,130.56 431.29,130.56 431.29,130.52 433.08,130.52 433.08,133.49 434.87,133.49 434.87,133.62 435.99,133.62 435.99,134.25 436.97,134.25 436.97,132.46 438.14,132.46 438.14,130.18 439.69,130.18 439.69,132.28 441.41,132.28 441.41,131.92 442.85,131.92 442.85,131.04 443.92,131.04 443.92,131.29 444.81,131.29 444.81,131.20 445.40,131.20 445.40,137.90" fill="#0fa04e"/>
<polyline clip-path="url(#cd1)" points="284.20,132.22 285.00,132.12 285.80,132.08 286.60,132.61 287.40,132.38 288.20,132.46 289.00,132.37 289.80,132.26 290.60,132.50 291.40,132.40 292.20,132.55 293.00,132.47 293.80,132.60 294.60,132.33 295.40,132.13 296.20,132.13 297.00,132.54 297.80,132.16 298.60,132.50 299.40,132.48 300.20,132.10 301.00,132.61 301.80,132.09 302.60,132.68 303.40,132.66 304.20,132.23 305.00,132.59 305.80,132.60 306.60,132.18 307.40,132.57 308.20,132.19 308.50,132.47 309.25,128.20 309.60,127.80 309.95,128.20 310.70,132.47 310.90,132.76 311.70,132.61 312.50,132.82 313.30,132.18 314.10,132.37 314.90,132.59 315.70,132.58 316.50,132.29 317.30,132.79 318.10,132.76 318.90,132.39 319.70,132.28 320.50,132.66 321.30,132.48 322.10,132.66 322.90,132.55 323.70,132.49 324.50,132.23 325.30,132.31 326.10,132.55 326.90,132.74 327.30,132.59 328.05,120.00 328.40,119.60 328.75,120.00 329.50,132.59 329.70,132.55 330.50,132.77 331.30,132.61 332.10,132.85 332.90,132.68 333.70,132.44 334.50,132.30 335.30,132.24 336.10,132.22 336.90,132.78 337.70,132.79 338.50,132.69 339.30,132.23 340.10,132.61 340.90,132.23 341.70,132.76 342.50,132.58 343.30,132.64 344.10,132.54 344.90,132.39 345.70,132.69 346.50,132.76 346.80,132.42 347.55,108.60 347.90,108.20 348.25,108.60 349.00,132.42 349.20,132.23 350.00,132.36 350.80,132.56 351.60,132.51 352.40,132.31 353.20,132.33 354.00,132.69 354.80,132.20 355.60,132.14 356.40,132.47 357.20,132.17 358.00,132.60 358.80,132.19 359.60,132.60 360.40,132.21 361.20,132.56 362.00,132.46 362.80,132.43 363.60,132.06 364.40,132.02 365.20,131.92 366.00,132.02 366.70,132.22 367.45,93.80 367.80,93.40 368.15,93.80 368.90,132.22 369.10,132.33 369.90,131.90 370.70,131.91 371.50,132.02 372.30,131.61 373.10,131.61 373.90,131.42 374.70,131.61 375.50,131.10 376.30,131.59 377.10,131.19 377.90,131.15 378.70,130.70 379.50,130.32 380.30,130.32 381.10,129.93 381.90,129.54 382.70,128.65 383.50,128.70 384.30,128.61 385.10,128.07 385.90,127.64 386.70,127.40 387.60,126.45 388.35,82.60 388.70,82.20 389.05,82.60 389.80,126.45 390.00,125.54 390.80,125.43 391.60,124.98 392.40,123.98 393.20,123.80 394.00,123.36 394.80,122.70 395.60,122.43 396.40,122.10 397.20,121.66 398.00,120.90 398.80,120.45 399.60,120.60 400.40,120.09 401.20,119.90 402.00,119.58 402.80,118.83 403.60,118.70 404.40,118.16 405.20,118.29 406.00,118.01 406.80,117.47 407.60,117.44 408.40,117.29 409.20,116.80 409.95,78.20 410.30,77.80 410.65,78.20 411.40,116.80 411.60,116.61 412.40,116.58 413.20,116.78 414.00,116.50 414.80,116.80 415.60,117.22 416.40,117.27 417.20,116.86 418.00,117.53 418.80,117.59 419.60,117.71 420.40,117.37 421.20,118.01 422.00,117.75 422.80,118.30 423.60,118.10 424.40,118.26 425.20,118.51 426.00,119.53 426.80,119.62 427.60,120.61 428.40,120.90 429.20,121.18 430.00,121.94 430.80,122.10 431.60,122.01 431.90,122.78 432.65,85.30 433.00,84.90 433.35,85.30 434.10,122.78 434.30,123.43 435.10,123.29 435.90,123.38 436.70,124.18 437.50,124.52 438.30,124.64 439.10,124.87 439.90,125.47 440.70,125.88 441.50,126.32 442.30,126.55 443.10,127.06 443.90,127.63 444.70,127.72 445.50,128.18 446.30,128.86 447.10,129.51 447.90,130.01 448.70,130.52 449.50,130.69 450.30,131.35 451.10,131.08 451.90,131.43 452.70,131.35 453.50,132.04 454.30,132.31 455.10,132.32 455.85,99.40 456.20,99.00 456.55,99.40 457.30,132.32 457.50,132.69 458.30,132.88 459.10,132.66 459.90,133.01 460.70,132.56 461.50,132.81 462.30,132.84 463.10,133.25 463.90,132.81 464.70,132.85 465.50,132.85 466.30,133.42 467.10,133.10 467.90,133.56 468.70,133.19 469.50,133.61 470.30,133.19 471.10,133.68 471.90,133.74 472.70,133.67 473.50,133.54 474.30,133.69 475.10,133.71 475.90,133.74 476.70,133.26 477.50,133.67 478.30,133.62 479.20,133.43 479.95,115.80 480.30,115.40 480.65,115.80 481.40,133.43 481.60,133.33 482.40,133.20 483.20,133.72 484.00,133.42 484.80,133.46 485.60,133.72 486.40,133.44 487.20,133.28 488.00,133.58 488.80,133.48 489.60,133.30 490.40,133.59 491.20,133.75 492.00,133.29 492.80,133.69 493.60,133.65 494.40,133.49 495.20,133.26 496.00,133.59 496.80,133.33 497.60,133.31 498.40,133.73 499.20,133.33 500.00,133.20 500.80,133.73 501.60,133.84 502.40,133.36 503.20,133.43 504.00,133.53 504.80,133.51 505.55,129.60 505.90,129.20 506.25,129.60 507.00,133.51 507.20,133.69 508.00,133.17 508.80,133.62 509.60,133.33 510.40,133.82 511.20,133.46 512.00,133.84 512.80,133.49 513.60,133.64 514.40,133.21 515.20,133.33 516.00,133.39 516.80,133.45 517.60,133.31 518.40,133.49 519.20,133.26 520.00,133.59 520.80,133.87 521.60,133.80 522.40,133.64 523.20,133.89 524.00,133.72 524.80,133.66 525.60,133.53 526.40,133.27 527.20,133.84 528.00,133.85 528.80,133.79 529.60,133.71 530.40,133.80 531.20,133.90 532.00,133.91 532.80,133.77 533.60,133.25 534.40,133.90 535.20,133.64 536.00,133.56 536.80,133.55 537.60,133.44" fill="none" stroke="#a31e68" stroke-width="1.2" stroke-linejoin="round"/>
<rect x="397.60" y="92.00" width="3.0" height="45.90" fill="#0fa04e"/>
<polygon clip-path="url(#cd2)" points="378.00,198.70 378.00,193.66 379.08,193.66 379.08,192.52 380.79,192.52 380.79,192.45 382.20,192.45 382.20,191.87 383.53,191.87 383.53,191.38 384.97,191.38 384.97,191.01 386.26,191.01 386.26,192.04 387.80,192.04 387.80,192.91 389.53,192.91 389.53,192.73 390.44,192.73 390.44,193.28 391.53,193.28 391.53,193.29 393.08,193.29 393.08,191.57 394.12,191.57 394.12,193.57 395.23,193.57 395.23,192.71 396.14,192.71 396.14,193.51 397.68,193.51 397.68,192.60 398.63,192.60 398.63,192.91 399.49,192.91 399.49,193.68 400.48,193.68 400.48,193.28 401.76,193.28 401.76,191.47 403.34,191.47 403.34,191.61 404.52,191.61 404.52,193.55 405.34,193.55 405.34,193.93 406.45,193.93 406.45,192.80 407.41,192.80 407.41,191.68 408.25,191.68 408.25,192.05 409.78,192.05 409.78,191.32 411.08,191.32 411.08,189.99 412.85,189.99 412.85,190.52 414.45,190.52 414.45,193.05 415.96,193.05 415.96,193.90 417.38,193.90 417.38,193.67 419.01,193.67 419.01,194.53 420.74,194.53 420.74,193.67 422.13,193.67 422.13,193.83 423.55,193.83 423.55,192.89 424.44,192.89 424.44,192.77 425.82,192.77 425.82,192.69 427.57,192.69 427.57,193.86 429.14,193.86 429.14,192.94 430.62,192.94 430.62,194.40 431.83,194.40 431.83,190.07 432.77,190.07 432.77,190.78 434.36,190.78 434.36,192.70 435.96,192.70 435.96,192.26 437.73,192.26 437.73,190.86 438.55,190.86 438.55,191.59 439.96,191.59 439.96,192.09 441.10,192.09 441.10,190.94 442.35,190.94 442.35,192.60 443.28,192.60 443.28,194.12 444.21,194.12 444.21,193.98 445.47,193.98 445.47,193.00 445.60,193.00 445.60,198.70" fill="#0fa04e"/>
<polyline clip-path="url(#cd2)" points="284.20,192.00 284.70,188.80 285.32,191.56 286.06,188.89 286.78,191.29 287.43,189.21 288.14,191.59 288.75,189.49 289.40,192.04 289.60,190.03 290.50,185.70 291.40,190.79 291.90,189.04 292.77,191.14 293.65,189.80 294.52,191.51 295.16,189.93 295.92,191.90 296.55,190.29 297.39,191.29 298.12,186.06 298.88,191.48 299.00,190.05 299.90,183.00 300.80,190.43 301.30,190.33 302.08,191.46 302.85,185.65 303.68,191.51 304.57,187.42 305.41,191.01 306.30,185.01 307.15,190.50 308.02,188.05 308.83,191.17 309.63,189.50 310.44,190.05 311.15,185.51 311.80,190.13 312.58,187.92 313.23,190.35 313.84,187.67 314.68,190.59 315.49,185.19 316.16,189.65 316.79,182.66 317.65,189.51 317.70,187.56 318.60,179.30 319.50,188.39 320.00,184.86 320.69,190.07 321.41,182.78 322.11,189.94 322.99,187.05 323.83,189.19 324.59,180.41 325.40,189.56 326.20,185.48 327.08,189.60 327.81,182.89 328.43,188.76 329.30,180.64 329.98,188.88 330.83,183.84 331.53,189.11 332.34,178.95 333.17,188.01 333.85,183.15 334.61,187.49 334.60,184.17 335.50,172.50 336.40,185.98 336.90,186.23 337.68,187.46 338.36,184.55 339.20,187.87 339.83,181.22 340.56,187.47 341.44,177.96 342.17,186.60 343.00,174.58 343.74,186.03 344.00,182.66 344.90,170.60 345.80,183.66 346.30,183.96 347.19,186.13 347.89,175.20 348.65,185.13 349.48,169.86 350.23,185.00 350.92,174.43 351.57,184.29 352.32,177.75 353.02,184.40 353.86,172.54 354.60,183.64 355.34,180.08 356.07,183.69 356.74,177.96 357.39,183.04 358.26,177.04 359.14,182.80 359.77,168.36 360.46,181.43 361.35,174.05 362.21,181.13 362.98,178.39 363.75,181.98 364.47,166.74 365.36,180.92 366.07,165.79 366.87,181.13 367.60,167.04 368.21,181.03 369.00,162.08 369.60,180.38 370.37,166.37 371.08,179.86 371.93,177.05 372.55,179.78 373.43,160.50 374.30,180.15 374.91,171.42 375.67,179.41 376.32,174.52 376.93,179.19 377.61,165.99 378.44,179.08 379.18,171.27 380.07,178.30 380.40,173.01 381.30,153.80 382.20,174.55 382.70,168.87 383.31,178.59 383.91,161.60 384.74,177.86 385.41,166.06 386.14,177.02 386.96,172.28 387.80,176.62 388.67,151.76 389.34,176.83 390.13,159.80 390.87,176.53 390.90,169.55 391.80,144.40 392.70,171.88 393.20,163.68 393.84,175.84 394.68,161.64 395.44,176.20 396.32,161.13 396.94,176.14 397.62,159.61 398.37,175.78 399.02,168.65 399.64,176.08 400.10,170.84 401.00,152.00 401.90,172.42 402.40,165.48 403.30,175.64 404.19,163.52 404.88,175.50 405.76,158.92 406.51,175.82 407.18,165.84 407.91,175.45 408.57,161.19 409.23,175.38 409.60,168.04 410.50,140.60 411.40,170.24 411.90,161.51 412.78,176.07 413.54,168.42 414.19,175.79 414.90,160.37 415.70,176.19 416.44,169.81 417.09,176.27 417.83,165.05 418.49,176.02 419.28,165.26 420.13,175.99 420.82,168.24 421.45,175.92 422.08,170.20 422.87,175.68 423.77,160.78 424.45,176.35 425.25,170.23 426.11,176.08 426.76,147.99 427.64,176.21 428.51,160.63 429.31,175.95 429.60,168.65 430.50,139.50 431.40,170.73 431.90,166.14 432.56,176.21 433.39,161.32 434.19,176.57 434.81,173.96 435.71,176.74 436.50,164.52 437.23,177.14 437.80,173.15 438.70,151.90 439.60,174.04 440.10,165.54 441.00,178.71 441.66,160.13 442.51,178.75 443.34,174.33 444.10,179.98 444.71,163.43 445.40,179.92 446.10,170.14 446.74,180.21 447.10,174.82 448.00,153.80 448.90,176.92 449.40,167.05 450.18,182.03 450.83,160.50 451.58,181.50 452.35,174.14 453.21,182.35 453.88,177.32 454.52,182.53 455.40,173.39 456.20,183.37 457.09,178.39 457.83,183.99 458.65,177.60 459.26,184.93 460.06,176.22 460.77,185.22 461.61,175.02 462.38,185.65 463.12,173.64 463.73,185.77 464.42,180.41 465.09,186.78 465.70,184.01 466.43,186.43 467.05,176.07 467.71,187.30 468.40,175.71 469.23,188.25 469.70,184.33 470.60,166.90 471.50,185.18 472.00,184.05 472.84,189.23 473.67,186.40 474.35,189.13 475.01,183.27 475.80,189.09 476.60,185.05 477.35,189.07 478.10,183.58 478.94,190.25 479.70,186.50 480.31,189.73 481.20,183.69 481.84,190.35 481.90,187.24 482.80,176.40 483.70,188.67 484.20,183.17 484.92,190.99 485.72,185.60 486.41,190.83 487.14,187.21 487.92,190.72 488.53,183.70 489.21,191.43 490.00,187.28 490.85,191.83 491.60,184.96 492.40,192.19 493.03,184.80 493.82,191.73 493.80,188.69 494.70,179.30 495.60,189.51 496.10,190.07 496.74,192.00 497.39,184.85 498.07,192.15 498.92,185.75 499.55,192.03 500.39,191.53 501.26,192.44 502.15,189.08 502.87,191.96 503.51,190.44 504.38,192.38 505.00,191.79 505.90,187.20 506.80,191.36 507.30,192.88 508.10,193.55 508.90,193.56 509.70,192.83 510.50,193.54 511.30,193.32 512.10,193.40 512.90,193.59 513.70,193.20 514.50,193.35 515.30,191.50 516.10,191.50 516.90,191.50 517.70,193.55 518.50,193.44 519.30,193.51 520.10,193.29 520.90,192.84 521.70,192.89 522.50,193.45 523.30,193.38 524.10,193.50 524.90,193.02 525.70,193.29 526.50,192.93 527.30,193.59 528.10,193.45 528.90,193.45 529.70,193.54 530.50,193.53 531.30,192.88 532.10,193.33 532.90,193.12 533.70,193.27 534.50,192.90 535.30,193.15 536.10,193.58 536.90,193.31 537.60,193.30" fill="none" stroke="#a31e68" stroke-width="1.3" stroke-linejoin="round"/>
<polygon clip-path="url(#cd3)" points="378.00,260.40 378.00,254.69 379.70,254.69 379.70,253.42 381.45,253.42 381.45,252.90 382.34,252.90 382.34,252.75 383.42,252.75 383.42,250.04 384.97,250.04 384.97,252.72 386.32,252.72 386.32,252.50 388.05,252.50 388.05,252.64 389.15,252.64 389.15,253.64 390.48,253.64 390.48,253.81 391.67,253.81 391.67,254.37 393.29,254.37 393.29,252.38 394.90,252.38 394.90,254.60 396.61,254.60 396.61,253.52 398.18,253.52 398.18,254.13 399.07,254.13 399.07,253.67 400.29,253.67 400.29,253.40 401.37,253.40 401.37,251.74 402.24,251.74 402.24,253.67 403.44,253.67 403.44,254.26 404.55,254.26 404.55,254.93 406.11,254.93 406.11,252.88 407.78,252.88 407.78,252.66 408.92,252.66 408.92,252.25 410.46,252.25 410.46,252.93 411.54,252.93 411.54,250.68 412.60,250.68 412.60,253.12 413.90,253.12 413.90,253.15 415.25,253.15 415.25,254.12 416.74,254.12 416.74,254.67 418.48,254.67 418.48,255.04 420.09,255.04 420.09,254.32 421.35,254.32 421.35,254.44 422.42,254.44 422.42,254.25 424.08,254.25 424.08,253.78 425.48,253.78 425.48,253.70 426.69,253.70 426.69,253.30 427.88,253.30 427.88,253.80 429.63,253.80 429.63,254.23 431.26,254.23 431.26,254.96 432.94,254.96 432.94,254.06 434.41,254.06 434.41,252.49 435.33,252.49 435.33,252.91 436.76,252.91 436.76,252.69 438.44,252.69 438.44,251.79 440.10,251.79 440.10,253.39 441.42,253.39 441.42,253.56 442.56,253.56 442.56,254.20 444.24,254.20 444.24,253.61 445.08,253.61 445.08,252.05 445.60,252.05 445.60,260.40" fill="#0fa04e"/>
<polyline clip-path="url(#cd3)" points="284.20,252.40 285.01,252.41 285.81,252.52 286.62,252.36 287.43,252.42 288.24,252.40 289.04,252.33 289.85,252.59 290.66,252.51 291.47,251.98 292.27,252.40 293.08,252.64 293.89,252.65 294.70,252.59 295.50,252.39 296.31,252.43 297.12,252.11 297.93,252.36 298.73,252.65 299.54,252.24 300.35,252.40 301.16,252.60 301.96,252.40 302.77,252.54 303.58,252.45 304.39,252.45 305.19,252.65 306.00,252.60 307.00,252.01 308.00,251.50 308.80,251.28 309.60,251.14 310.40,250.84 311.20,251.27 312.00,250.80 312.75,250.37 313.50,250.34 314.25,248.75 315.00,249.20 315.75,249.71 316.50,249.37 317.25,250.03 318.00,250.20 318.75,249.76 319.50,247.84 320.25,248.44 321.00,248.50 321.73,248.57 322.47,246.67 323.20,246.70 324.00,244.40 325.00,247.30 325.83,246.63 326.67,246.50 327.50,246.33 328.33,246.51 329.17,247.62 330.00,246.80 330.80,246.62 331.60,244.89 332.40,244.20 333.20,243.89 334.00,243.50 334.72,240.39 335.44,241.32 336.16,241.91 336.88,241.97 337.60,241.00 338.50,238.70 339.50,241.80 340.38,241.71 341.25,241.45 342.12,240.74 343.00,241.20 343.80,241.02 344.60,241.13 345.40,239.56 346.20,237.31 347.00,239.00 347.80,236.49 348.60,238.28 349.40,236.81 350.20,235.92 351.00,236.00 352.00,231.40 353.00,235.50 353.80,235.00 354.60,234.99 355.40,234.22 356.20,234.39 357.00,234.20 357.80,233.82 358.60,232.42 359.40,231.99 360.20,231.27 361.00,231.50 361.86,231.00 362.72,230.36 363.58,228.23 364.44,229.26 365.30,228.50 366.00,221.80 367.00,227.50 367.83,226.95 368.67,227.48 369.50,225.91 370.33,225.94 371.17,226.39 372.00,226.00 372.80,225.89 373.60,224.90 374.40,223.11 375.20,224.19 376.00,224.50 376.74,224.36 377.48,224.62 378.22,224.23 378.96,223.22 379.70,222.80 380.50,213.20 381.50,221.50 382.29,220.56 383.07,220.97 383.86,221.57 384.64,217.45 385.43,219.88 386.21,219.51 387.00,220.00 387.80,220.50 388.60,219.90 389.40,218.65 390.20,219.65 391.00,218.50 391.75,217.73 392.50,215.94 393.25,216.63 394.00,215.00 394.60,205.50 395.40,214.50 396.27,213.19 397.13,217.30 398.00,218.20 398.75,219.09 399.50,219.17 400.25,219.91 401.00,221.50 401.87,221.74 402.73,223.01 403.60,223.70 404.45,220.44 405.30,222.40 406.15,222.92 407.00,222.50 407.87,220.24 408.73,221.91 409.60,221.00 410.30,202.50 411.10,220.50 412.05,221.58 413.00,222.20 413.76,222.84 414.52,223.03 415.28,223.01 416.04,222.05 416.80,222.60 417.60,221.72 418.40,221.59 419.20,221.58 420.00,221.80 420.74,221.31 421.48,220.58 422.22,220.79 422.96,221.05 423.70,220.60 424.40,219.53 425.10,218.00 425.70,203.90 426.40,217.50 427.00,219.00 427.87,218.55 428.73,214.18 429.60,215.70 430.55,216.08 431.50,217.50 432.27,218.08 433.05,219.00 433.83,218.60 434.60,219.60 435.40,220.02 436.20,220.92 437.00,221.00 437.88,221.60 438.75,220.79 439.62,221.33 440.50,222.00 441.50,215.70 442.30,224.00 443.40,227.50 444.27,225.88 445.13,229.62 446.00,229.50 446.82,229.81 447.65,230.43 448.48,230.95 449.30,232.40 450.04,233.32 450.78,232.64 451.52,233.05 452.26,233.42 453.00,233.50 453.88,234.07 454.75,233.64 455.62,231.04 456.50,233.00 457.15,227.72 457.80,222.60 458.60,233.50 459.20,235.40 459.90,235.05 460.60,237.55 461.30,236.52 462.00,238.00 462.70,239.55 463.40,240.26 464.10,240.30 464.83,239.85 465.55,239.30 466.27,239.97 467.00,240.50 467.88,240.14 468.75,237.77 469.62,239.33 470.50,239.50 471.25,237.52 472.00,236.50 473.20,241.00 473.90,241.03 474.60,239.56 475.30,242.59 476.00,243.50 476.73,240.70 477.45,241.59 478.17,243.30 478.90,246.20 479.75,246.19 480.60,247.27 481.45,247.34 482.30,247.98 483.15,246.44 484.00,247.80 484.75,247.52 485.50,247.67 486.25,246.63 487.00,246.50 488.00,247.33 489.00,248.50 489.90,247.60 490.80,247.46 491.70,250.20 492.56,250.25 493.42,250.59 494.28,249.14 495.14,251.86 496.00,252.30 496.80,252.42 497.60,252.27 498.40,252.53 499.20,252.88 500.00,252.50 500.80,253.51 501.60,253.50 502.40,252.39 503.21,253.34 504.01,253.15 504.81,253.59 505.62,253.73 506.42,253.61 507.22,253.28 508.03,253.61 508.83,253.34 509.63,253.79 510.44,253.68 511.24,253.77 512.04,253.27 512.85,253.78 513.65,253.80 514.45,253.80 515.25,253.53 516.06,253.60 516.86,253.33 517.66,253.68 518.47,253.70 519.27,253.90 520.07,253.85 520.88,253.74 521.68,253.82 522.48,252.92 523.29,253.72 524.09,253.16 524.89,253.74 525.70,253.78 526.50,253.80 527.20,249.20 527.90,253.80 528.71,253.63 529.52,253.68 530.33,253.76 531.13,254.07 531.94,253.88 532.75,253.78 533.56,253.89 534.37,254.17 535.17,254.07 535.98,254.01 536.79,254.25 537.60,254.10" fill="none" stroke="#a31e68" stroke-width="1.2" stroke-linejoin="round"/>
<polygon clip-path="url(#cd4)" points="378.50,321.20 378.50,315.17 380.17,315.17 380.17,315.27 381.53,315.27 381.53,313.97 383.26,313.97 383.26,314.38 384.78,314.38 384.78,313.03 385.94,313.03 385.94,314.05 387.12,314.05 387.12,314.88 387.97,314.88 387.97,312.53 388.93,312.53 388.93,312.67 389.81,312.67 389.81,316.64 391.15,316.64 391.15,315.91 392.45,315.91 392.45,316.16 393.51,316.16 393.51,316.32 394.82,316.32 394.82,316.06 396.45,316.06 396.45,315.59 397.35,315.59 397.35,316.27 398.59,316.27 398.59,315.70 399.97,315.70 399.97,315.60 401.58,315.60 401.58,317.38 402.48,317.38 402.48,317.18 403.41,317.18 403.41,316.18 404.22,316.18 404.22,316.40 405.18,316.40 405.18,313.64 406.43,313.64 406.43,315.19 407.75,315.19 407.75,314.68 408.72,314.68 408.72,313.57 410.42,313.57 410.42,314.44 411.30,314.44 411.30,314.86 412.56,314.86 412.56,315.63 413.37,315.63 413.37,315.59 414.27,315.59 414.27,316.22 415.44,316.22 415.44,315.37 416.70,315.37 416.70,315.53 417.80,315.53 417.80,315.90 419.02,315.90 419.02,316.41 419.99,316.41 419.99,316.29 421.29,316.29 421.29,316.51 422.19,316.51 422.19,316.03 423.77,316.03 423.77,315.49 425.33,315.49 425.33,315.88 426.53,315.88 426.53,316.57 427.88,316.57 427.88,316.03 429.43,316.03 429.43,316.65 430.68,316.65 430.68,315.14 432.07,315.14 432.07,315.27 433.23,315.27 433.23,315.43 434.25,315.43 434.25,313.04 435.41,313.04 435.41,313.63 437.20,313.63 437.20,314.36 438.77,314.36 438.77,315.45 440.42,315.45 440.42,314.51 441.57,314.51 441.57,315.62 442.51,315.62 442.51,313.70 444.05,313.70 444.05,315.59 444.94,315.59 444.94,315.97 445.40,315.97 445.40,321.20" fill="#0fa04e"/>
<polyline clip-path="url(#cd4)" points="284.20,314.28 285.00,314.49 285.80,314.06 286.10,314.40 286.85,310.00 287.20,309.60 287.55,310.00 288.30,314.40 288.50,314.74 289.30,314.63 290.10,314.76 290.90,314.24 291.70,314.20 292.50,314.10 293.30,314.20 294.10,314.08 294.90,314.55 295.70,314.32 296.50,314.64 297.30,314.60 298.10,314.31 299.10,314.42 299.85,301.00 300.20,300.60 300.55,301.00 301.30,314.42 301.50,314.19 302.30,314.32 303.10,314.10 303.90,314.53 304.70,314.21 305.50,314.18 306.30,314.70 307.10,314.39 307.90,314.74 308.70,314.77 309.50,314.55 310.30,314.26 311.10,314.19 311.60,314.44 312.35,296.60 312.70,296.20 313.05,296.60 313.80,314.44 314.00,314.26 314.80,314.61 315.60,314.45 316.40,314.30 317.20,314.11 318.00,314.34 318.80,314.37 319.60,314.15 320.40,314.27 321.20,314.31 322.00,314.39 322.80,314.45 323.60,314.50 324.40,314.45 325.15,294.60 325.50,294.20 325.85,294.60 326.60,314.45 326.80,314.70 327.60,314.31 328.40,314.17 329.20,314.32 330.00,314.26 330.80,314.51 331.60,314.45 332.40,314.34 333.20,314.18 334.00,314.64 334.80,314.55 335.60,314.55 336.40,314.61 337.20,314.72 337.80,314.47 338.55,289.90 338.90,289.50 339.25,289.90 340.00,314.47 340.20,314.15 341.00,314.26 341.80,314.46 342.60,314.62 343.40,314.48 344.20,314.48 345.00,314.35 345.80,314.30 346.60,314.74 347.40,314.82 348.20,314.48 349.00,314.46 349.80,314.23 350.60,314.56 351.20,314.49 351.95,281.20 352.30,280.80 352.65,281.20 353.40,314.49 353.60,314.29 354.40,314.58 355.20,314.34 356.00,314.47 356.80,314.75 357.60,314.37 358.40,314.52 359.20,314.37 360.00,314.49 360.80,314.72 361.60,314.41 362.40,314.71 363.20,314.28 364.00,314.27 364.80,314.36 365.20,314.19 365.95,275.50 366.30,275.10 366.65,275.50 367.40,314.19 367.60,314.12 368.40,314.20 369.20,313.89 370.00,313.66 370.80,313.72 371.60,313.25 372.40,313.15 373.20,313.17 374.00,313.01 374.80,312.94 375.60,312.56 376.40,312.25 377.20,311.88 378.00,311.74 378.80,311.39 379.50,310.98 380.25,269.80 380.60,269.40 380.95,269.80 381.70,310.98 381.90,310.22 382.70,310.23 383.50,310.00 384.30,309.47 385.10,309.48 385.90,309.04 386.70,308.59 387.50,308.67 388.30,307.79 389.10,307.67 389.90,307.41 390.70,307.29 391.50,306.62 392.30,306.76 393.10,305.77 393.90,305.16 394.65,265.00 395.00,264.60 395.35,265.00 396.10,305.16 396.30,304.51 397.10,304.15 397.90,303.97 398.70,303.33 399.50,302.96 400.30,303.07 401.10,302.79 401.90,302.34 402.70,302.27 403.50,301.61 404.30,301.42 405.10,301.35 405.90,300.99 406.70,301.37 407.50,300.73 408.30,300.63 409.20,300.71 409.95,262.90 410.30,262.50 410.65,262.90 411.40,300.71 411.60,301.04 412.40,300.74 413.20,300.55 414.00,301.09 414.80,300.63 415.60,300.84 416.40,300.55 417.20,300.67 418.00,300.93 418.80,301.10 419.60,300.73 420.40,301.28 421.20,301.38 422.00,301.58 422.80,301.97 423.60,301.81 424.60,302.31 425.35,262.70 425.70,262.30 426.05,262.70 426.80,302.31 427.00,302.26 427.80,302.48 428.60,303.24 429.40,302.89 430.20,303.24 431.00,303.90 431.80,304.35 432.60,304.75 433.40,305.01 434.20,305.24 435.00,306.03 435.80,305.80 436.60,306.36 437.40,307.27 438.20,307.10 439.00,307.95 439.80,308.17 440.40,308.80 441.15,271.60 441.50,271.20 441.85,271.60 442.60,308.80 442.80,309.41 443.60,309.73 444.40,309.92 445.20,310.52 446.00,310.29 446.80,310.77 447.60,311.43 448.40,311.73 449.20,311.98 450.00,312.33 450.80,312.24 451.60,312.64 452.40,312.80 453.20,313.16 454.00,312.93 454.80,313.15 455.60,313.36 456.40,313.47 456.70,313.99 457.45,275.10 457.80,274.70 458.15,275.10 458.90,313.99 459.10,314.45 459.90,314.47 460.70,314.20 461.50,314.79 462.30,314.53 463.10,314.75 463.90,314.70 464.70,314.47 465.50,314.42 466.30,314.58 467.10,314.86 467.90,314.77 468.70,314.89 469.50,314.62 470.30,314.61 471.10,314.45 471.90,314.63 472.70,314.64 473.30,314.61 474.05,289.90 474.40,289.50 474.75,289.90 475.50,314.61 475.70,314.80 476.50,314.86 477.30,314.91 478.10,314.47 478.90,314.75 479.70,314.35 480.50,314.51 481.30,314.74 482.10,314.32 482.90,314.93 483.70,314.71 484.50,314.51 485.30,314.64 486.10,314.88 486.90,314.42 487.70,315.00 488.50,314.83 489.30,314.75 490.10,314.52 490.60,314.75 491.35,298.80 491.70,298.40 492.05,298.80 492.80,314.75 493.00,314.84 493.80,314.57 494.60,314.47 495.40,315.02 496.20,314.68 497.00,314.98 497.80,314.78 498.60,314.84 499.40,314.73 500.20,315.03 501.00,315.01 501.80,314.74 502.60,314.87 503.40,314.68 504.20,315.13 505.00,314.82 505.80,314.92 506.60,314.91 507.40,314.59 508.40,314.88 509.15,305.70 509.50,305.30 509.85,305.70 510.60,314.88 510.80,314.78 511.60,315.09 512.40,314.97 513.20,314.73 514.00,314.68 514.80,315.18 515.60,315.15 516.40,315.21 517.20,314.72 518.00,314.98 518.80,314.91 519.60,314.91 520.40,314.87 521.20,315.07 522.00,315.03 522.80,314.69 523.60,314.67 524.40,314.77 525.20,315.22 526.00,315.26 526.50,315.02 527.25,310.60 527.60,310.20 527.95,310.60 528.70,315.02 528.90,315.15 529.70,314.95 530.50,315.07 531.30,315.15 532.10,314.83 532.90,315.39 533.70,315.36 534.50,314.75 535.30,314.91 536.10,314.93 536.90,315.35" fill="none" stroke="#a31e68" stroke-width="1.2" stroke-linejoin="round"/>
<rect x="408.70" y="279.60" width="3.2" height="41.60" fill="#0fa04e"/>
<polyline clip-path="url(#cd4)" points="283.70,310.53 284.70,310.09 285.70,309.65 286.70,309.20 287.70,308.76 288.70,308.32 289.70,307.88 290.70,307.43 291.70,306.99 292.70,306.55 293.70,306.11 294.70,305.66 295.70,305.22 296.70,304.78 297.70,304.34 298.70,303.90 299.70,303.45 300.70,303.01 301.70,302.57 302.70,302.13 303.70,301.69 304.70,301.25 305.70,300.81 306.70,300.37 307.70,299.93 308.70,299.49 309.70,299.05 310.70,298.61 311.70,298.17 312.70,297.73 313.70,297.29 314.70,296.85 315.70,296.41 316.70,295.97 317.70,295.54 318.70,295.10 319.70,294.66 320.70,294.22 321.70,293.79 322.70,293.35 323.70,292.91 324.70,292.48 325.70,292.04 326.70,291.61 327.70,291.17 328.70,290.74 329.70,290.30 330.70,289.87 331.70,289.43 332.70,289.00 333.70,288.57 334.70,288.13 335.70,287.70 336.70,287.27 337.70,286.84 338.70,286.41 339.70,285.98 340.70,285.55 341.70,285.12 342.70,284.69 343.70,284.26 344.70,283.83 345.70,283.41 346.70,282.98 347.70,282.56 348.70,282.13 349.70,281.71 350.70,281.28 351.70,280.86 352.70,280.44 353.70,280.02 354.70,279.60 355.70,279.18 356.70,278.76 357.70,278.35 358.70,277.93 359.70,277.52 360.70,277.11 361.70,276.69 362.70,276.28 363.70,275.87 364.70,275.47 365.70,275.06 366.70,274.66 367.70,274.26 368.70,273.86 369.70,273.46 370.70,273.06 371.70,272.67 372.70,272.28 373.70,271.89 374.70,271.50 375.70,271.12 376.70,270.74 377.70,270.36 378.70,269.99 379.70,269.62 380.70,269.25 381.70,268.89 382.70,268.53 383.70,268.18 384.70,267.83 385.70,267.49 386.70,267.15 387.70,266.82 388.70,266.50 389.70,266.18 390.70,265.87 391.70,265.57 392.70,265.28 393.70,264.99 394.70,264.72 395.70,264.46 396.70,264.21 397.70,263.97 398.70,263.74 399.70,263.53 400.70,263.33 401.70,263.15 402.70,262.98 403.70,262.83 404.70,262.70 405.70,262.58 406.70,262.49 407.70,262.41 408.70,262.35 409.70,262.32 410.70,262.30 411.70,262.31 412.70,262.33 413.70,262.38 414.70,262.45 415.70,262.53 416.70,262.64 417.70,262.77 418.70,262.92 419.70,263.08 420.70,263.26 421.70,263.46 422.70,263.67 423.70,263.90 424.70,264.14 425.70,264.40 426.70,264.66 427.70,264.94 428.70,265.23 429.70,265.53 430.70,265.84 431.70,266.16 432.70,266.48 433.70,266.82 434.70,267.16 435.70,267.51 436.70,267.86 437.70,268.22 438.70,268.59 439.70,268.96 440.70,269.33 441.70,269.71 442.70,270.10 443.70,270.48 444.70,270.88 445.70,271.27 446.70,271.67 447.70,272.07 448.70,272.48 449.70,272.88 450.70,273.29 451.70,273.70 452.70,274.12 453.70,274.54 454.70,274.95 455.70,275.38 456.70,275.80 457.70,276.22 458.70,276.65 459.70,277.08 460.70,277.51 461.70,277.94 462.70,278.37 463.70,278.80 464.70,279.23 465.70,279.67 466.70,280.11 467.70,280.54 468.70,280.98 469.70,281.42 470.70,281.86 471.70,282.31 472.70,282.75 473.70,283.19 474.70,283.63 475.70,284.08 476.70,284.52 477.70,284.97 478.70,285.42 479.70,285.86 480.70,286.31 481.70,286.76 482.70,287.21 483.70,287.66 484.70,288.11 485.70,288.56 486.70,289.01 487.70,289.46 488.70,289.91 489.70,290.37 490.70,290.82 491.70,291.27 492.70,291.73 493.70,292.18 494.70,292.64 495.70,293.09 496.70,293.55 497.70,294.00 498.70,294.46 499.70,294.91 500.70,295.37 501.70,295.83 502.70,296.28 503.70,296.74 504.70,297.20 505.70,297.65 506.70,298.11 507.70,298.57 508.70,299.03 509.70,299.49 510.70,299.95 511.70,300.41 512.70,300.86 513.70,301.32 514.70,301.78 515.70,302.24 516.70,302.70 517.70,303.16 518.70,303.62 519.70,304.08 520.70,304.55 521.70,305.01 522.70,305.47 523.70,305.93 524.70,306.39 525.70,306.85 526.70,307.31 527.70,307.78 528.70,308.24 529.70,308.70 530.70,309.16 531.70,309.62 532.70,310.09 533.70,310.55 534.70,311.01 535.70,311.47 536.70,311.94" fill="none" stroke="#111" stroke-width="1.25" stroke-dasharray="4.6,3.0"/>
<line x1="338.95" y1="15.6" x2="338.95" y2="18.8" stroke="#262626" stroke-width="0.9"/>
<line x1="338.95" y1="76.4" x2="338.95" y2="73.2" stroke="#262626" stroke-width="0.9"/>
<line x1="394.20" y1="15.6" x2="394.20" y2="18.8" stroke="#262626" stroke-width="0.9"/>
<line x1="394.20" y1="76.4" x2="394.20" y2="73.2" stroke="#262626" stroke-width="0.9"/>
<line x1="449.45" y1="15.6" x2="449.45" y2="18.8" stroke="#262626" stroke-width="0.9"/>
<line x1="449.45" y1="76.4" x2="449.45" y2="73.2" stroke="#262626" stroke-width="0.9"/>
<line x1="504.70" y1="15.6" x2="504.70" y2="18.8" stroke="#262626" stroke-width="0.9"/>
<line x1="504.70" y1="76.4" x2="504.70" y2="73.2" stroke="#262626" stroke-width="0.9"/>
<line x1="284.2" y1="25.73" x2="287.7" y2="25.73" stroke="#262626" stroke-width="0.9"/>
<line x1="537.6" y1="25.73" x2="534.1" y2="25.73" stroke="#262626" stroke-width="0.9"/>
<text x="280.60" y="28.83" font-size="8.6" text-anchor="end" fill="#262626" stroke="#262626" stroke-width="0.22" font-weight="normal" >−20</text>
<line x1="284.2" y1="46.00" x2="287.7" y2="46.00" stroke="#262626" stroke-width="0.9"/>
<line x1="537.6" y1="46.00" x2="534.1" y2="46.00" stroke="#262626" stroke-width="0.9"/>
<text x="280.60" y="49.10" font-size="8.6" text-anchor="end" fill="#262626" stroke="#262626" stroke-width="0.22" font-weight="normal" >−40</text>
<line x1="284.2" y1="66.27" x2="287.7" y2="66.27" stroke="#262626" stroke-width="0.9"/>
<line x1="537.6" y1="66.27" x2="534.1" y2="66.27" stroke="#262626" stroke-width="0.9"/>
<text x="280.60" y="69.37" font-size="8.6" text-anchor="end" fill="#262626" stroke="#262626" stroke-width="0.22" font-weight="normal" >−60</text>
<rect x="284.2" y="15.6" width="253.40000000000003" height="60.800000000000004" fill="none" stroke="#262626" stroke-width="1.0"/>
<line x1="338.95" y1="76.4" x2="338.95" y2="79.60000000000001" stroke="#262626" stroke-width="0.9"/>
<line x1="338.95" y1="137.9" x2="338.95" y2="134.70000000000002" stroke="#262626" stroke-width="0.9"/>
<line x1="394.20" y1="76.4" x2="394.20" y2="79.60000000000001" stroke="#262626" stroke-width="0.9"/>
<line x1="394.20" y1="137.9" x2="394.20" y2="134.70000000000002" stroke="#262626" stroke-width="0.9"/>
<line x1="449.45" y1="76.4" x2="449.45" y2="79.60000000000001" stroke="#262626" stroke-width="0.9"/>
<line x1="449.45" y1="137.9" x2="449.45" y2="134.70000000000002" stroke="#262626" stroke-width="0.9"/>
<line x1="504.70" y1="76.4" x2="504.70" y2="79.60000000000001" stroke="#262626" stroke-width="0.9"/>
<line x1="504.70" y1="137.9" x2="504.70" y2="134.70000000000002" stroke="#262626" stroke-width="0.9"/>
<line x1="284.2" y1="86.65" x2="287.7" y2="86.65" stroke="#262626" stroke-width="0.9"/>
<line x1="537.6" y1="86.65" x2="534.1" y2="86.65" stroke="#262626" stroke-width="0.9"/>
<text x="280.60" y="89.75" font-size="8.6" text-anchor="end" fill="#262626" stroke="#262626" stroke-width="0.22" font-weight="normal" >−20</text>
<line x1="284.2" y1="107.15" x2="287.7" y2="107.15" stroke="#262626" stroke-width="0.9"/>
<line x1="537.6" y1="107.15" x2="534.1" y2="107.15" stroke="#262626" stroke-width="0.9"/>
<text x="280.60" y="110.25" font-size="8.6" text-anchor="end" fill="#262626" stroke="#262626" stroke-width="0.22" font-weight="normal" >−40</text>
<line x1="284.2" y1="127.65" x2="287.7" y2="127.65" stroke="#262626" stroke-width="0.9"/>
<line x1="537.6" y1="127.65" x2="534.1" y2="127.65" stroke="#262626" stroke-width="0.9"/>
<text x="280.60" y="130.75" font-size="8.6" text-anchor="end" fill="#262626" stroke="#262626" stroke-width="0.22" font-weight="normal" >−60</text>
<rect x="284.2" y="76.4" width="253.40000000000003" height="61.5" fill="none" stroke="#262626" stroke-width="1.0"/>
<line x1="338.95" y1="137.9" x2="338.95" y2="141.1" stroke="#262626" stroke-width="0.9"/>
<line x1="338.95" y1="198.7" x2="338.95" y2="195.5" stroke="#262626" stroke-width="0.9"/>
<line x1="394.20" y1="137.9" x2="394.20" y2="141.1" stroke="#262626" stroke-width="0.9"/>
<line x1="394.20" y1="198.7" x2="394.20" y2="195.5" stroke="#262626" stroke-width="0.9"/>
<line x1="449.45" y1="137.9" x2="449.45" y2="141.1" stroke="#262626" stroke-width="0.9"/>
<line x1="449.45" y1="198.7" x2="449.45" y2="195.5" stroke="#262626" stroke-width="0.9"/>
<line x1="504.70" y1="137.9" x2="504.70" y2="141.1" stroke="#262626" stroke-width="0.9"/>
<line x1="504.70" y1="198.7" x2="504.70" y2="195.5" stroke="#262626" stroke-width="0.9"/>
<line x1="284.2" y1="148.03" x2="287.7" y2="148.03" stroke="#262626" stroke-width="0.9"/>
<line x1="537.6" y1="148.03" x2="534.1" y2="148.03" stroke="#262626" stroke-width="0.9"/>
<text x="280.60" y="151.13" font-size="8.6" text-anchor="end" fill="#262626" stroke="#262626" stroke-width="0.22" font-weight="normal" >−20</text>
<line x1="284.2" y1="168.30" x2="287.7" y2="168.30" stroke="#262626" stroke-width="0.9"/>
<line x1="537.6" y1="168.30" x2="534.1" y2="168.30" stroke="#262626" stroke-width="0.9"/>
<text x="280.60" y="171.40" font-size="8.6" text-anchor="end" fill="#262626" stroke="#262626" stroke-width="0.22" font-weight="normal" >−40</text>
<line x1="284.2" y1="188.57" x2="287.7" y2="188.57" stroke="#262626" stroke-width="0.9"/>
<line x1="537.6" y1="188.57" x2="534.1" y2="188.57" stroke="#262626" stroke-width="0.9"/>
<text x="280.60" y="191.67" font-size="8.6" text-anchor="end" fill="#262626" stroke="#262626" stroke-width="0.22" font-weight="normal" >−60</text>
<rect x="284.2" y="137.9" width="253.40000000000003" height="60.79999999999998" fill="none" stroke="#262626" stroke-width="1.0"/>
<line x1="338.95" y1="198.7" x2="338.95" y2="201.89999999999998" stroke="#262626" stroke-width="0.9"/>
<line x1="338.95" y1="260.4" x2="338.95" y2="257.2" stroke="#262626" stroke-width="0.9"/>
<line x1="394.20" y1="198.7" x2="394.20" y2="201.89999999999998" stroke="#262626" stroke-width="0.9"/>
<line x1="394.20" y1="260.4" x2="394.20" y2="257.2" stroke="#262626" stroke-width="0.9"/>
<line x1="449.45" y1="198.7" x2="449.45" y2="201.89999999999998" stroke="#262626" stroke-width="0.9"/>
<line x1="449.45" y1="260.4" x2="449.45" y2="257.2" stroke="#262626" stroke-width="0.9"/>
<line x1="504.70" y1="198.7" x2="504.70" y2="201.89999999999998" stroke="#262626" stroke-width="0.9"/>
<line x1="504.70" y1="260.4" x2="504.70" y2="257.2" stroke="#262626" stroke-width="0.9"/>
<line x1="284.2" y1="208.98" x2="287.7" y2="208.98" stroke="#262626" stroke-width="0.9"/>
<line x1="537.6" y1="208.98" x2="534.1" y2="208.98" stroke="#262626" stroke-width="0.9"/>
<text x="280.60" y="212.08" font-size="8.6" text-anchor="end" fill="#262626" stroke="#262626" stroke-width="0.22" font-weight="normal" >−20</text>
<line x1="284.2" y1="229.55" x2="287.7" y2="229.55" stroke="#262626" stroke-width="0.9"/>
<line x1="537.6" y1="229.55" x2="534.1" y2="229.55" stroke="#262626" stroke-width="0.9"/>
<text x="280.60" y="232.65" font-size="8.6" text-anchor="end" fill="#262626" stroke="#262626" stroke-width="0.22" font-weight="normal" >−40</text>
<line x1="284.2" y1="250.12" x2="287.7" y2="250.12" stroke="#262626" stroke-width="0.9"/>
<line x1="537.6" y1="250.12" x2="534.1" y2="250.12" stroke="#262626" stroke-width="0.9"/>
<text x="280.60" y="253.22" font-size="8.6" text-anchor="end" fill="#262626" stroke="#262626" stroke-width="0.22" font-weight="normal" >−60</text>
<rect x="284.2" y="198.7" width="253.40000000000003" height="61.69999999999999" fill="none" stroke="#262626" stroke-width="1.0"/>
<line x1="338.95" y1="260.4" x2="338.95" y2="263.59999999999997" stroke="#262626" stroke-width="0.9"/>
<line x1="338.95" y1="321.2" x2="338.95" y2="318.0" stroke="#262626" stroke-width="0.9"/>
<line x1="394.20" y1="260.4" x2="394.20" y2="263.59999999999997" stroke="#262626" stroke-width="0.9"/>
<line x1="394.20" y1="321.2" x2="394.20" y2="318.0" stroke="#262626" stroke-width="0.9"/>
<line x1="449.45" y1="260.4" x2="449.45" y2="263.59999999999997" stroke="#262626" stroke-width="0.9"/>
<line x1="449.45" y1="321.2" x2="449.45" y2="318.0" stroke="#262626" stroke-width="0.9"/>
<line x1="504.70" y1="260.4" x2="504.70" y2="263.59999999999997" stroke="#262626" stroke-width="0.9"/>
<line x1="504.70" y1="321.2" x2="504.70" y2="318.0" stroke="#262626" stroke-width="0.9"/>
<line x1="284.2" y1="270.53" x2="287.7" y2="270.53" stroke="#262626" stroke-width="0.9"/>
<line x1="537.6" y1="270.53" x2="534.1" y2="270.53" stroke="#262626" stroke-width="0.9"/>
<text x="280.60" y="273.63" font-size="8.6" text-anchor="end" fill="#262626" stroke="#262626" stroke-width="0.22" font-weight="normal" >−20</text>
<line x1="284.2" y1="290.80" x2="287.7" y2="290.80" stroke="#262626" stroke-width="0.9"/>
<line x1="537.6" y1="290.80" x2="534.1" y2="290.80" stroke="#262626" stroke-width="0.9"/>
<text x="280.60" y="293.90" font-size="8.6" text-anchor="end" fill="#262626" stroke="#262626" stroke-width="0.22" font-weight="normal" >−40</text>
<line x1="284.2" y1="311.07" x2="287.7" y2="311.07" stroke="#262626" stroke-width="0.9"/>
<line x1="537.6" y1="311.07" x2="534.1" y2="311.07" stroke="#262626" stroke-width="0.9"/>
<text x="280.60" y="314.17" font-size="8.6" text-anchor="end" fill="#262626" stroke="#262626" stroke-width="0.22" font-weight="normal" >−60</text>
<rect x="284.2" y="260.4" width="253.40000000000003" height="60.80000000000001" fill="none" stroke="#262626" stroke-width="1.0"/>
<text x="283.70" y="12.20" font-size="8.6" text-anchor="middle" fill="#1fa856" stroke="#1fa856" stroke-width="0.22" font-weight="normal" >475</text>
<text x="338.95" y="12.20" font-size="8.6" text-anchor="middle" fill="#1fa856" stroke="#1fa856" stroke-width="0.22" font-weight="normal" >500</text>
<text x="394.20" y="12.20" font-size="8.6" text-anchor="middle" fill="#1fa856" stroke="#1fa856" stroke-width="0.22" font-weight="normal" >525</text>
<text x="449.45" y="12.20" font-size="8.6" text-anchor="middle" fill="#1fa856" stroke="#1fa856" stroke-width="0.22" font-weight="normal" >550</text>
<text x="504.70" y="12.20" font-size="8.6" text-anchor="middle" fill="#1fa856" stroke="#1fa856" stroke-width="0.22" font-weight="normal" >575</text>
<text x="283.70" y="332.80" font-size="8.6" text-anchor="middle" fill="#a3306f" stroke="#a3306f" stroke-width="0.22" font-weight="normal" >950</text>
<text x="338.95" y="332.80" font-size="8.6" text-anchor="middle" fill="#a3306f" stroke="#a3306f" stroke-width="0.22" font-weight="normal" >1000</text>
<text x="394.20" y="332.80" font-size="8.6" text-anchor="middle" fill="#a3306f" stroke="#a3306f" stroke-width="0.22" font-weight="normal" >1050</text>
<text x="449.45" y="332.80" font-size="8.6" text-anchor="middle" fill="#a3306f" stroke="#a3306f" stroke-width="0.22" font-weight="normal" >1100</text>
<text x="504.70" y="332.80" font-size="8.6" text-anchor="middle" fill="#a3306f" stroke="#a3306f" stroke-width="0.22" font-weight="normal" >1150</text>
<text x="410.20" y="345.20" font-size="8.6" text-anchor="middle" fill="#262626" stroke="#262626" stroke-width="0.22" font-weight="normal" >λ (nm)</text>
<text transform="translate(260.6,171.5) rotate(-90)" font-size="8.6" text-anchor="middle" fill="#262626" stroke="#262626" stroke-width="0.22">Power (dBm)</text>
<text x="289.5" y="28.10" font-size="8.6" fill="#262626" stroke="#262626" stroke-width="0.22">stage <tspan font-weight="bold">i</tspan></text>
<text x="567.1" y="28.10" font-size="8.6" fill="#262626" stroke="#262626" stroke-width="0.22">stage <tspan font-weight="bold">i</tspan></text>
<text x="289.5" y="89.70" font-size="8.6" fill="#262626" stroke="#262626" stroke-width="0.22">stage <tspan font-weight="bold">ii</tspan></text>
<text x="567.1" y="89.90" font-size="8.6" fill="#262626" stroke="#262626" stroke-width="0.22">stage <tspan font-weight="bold">ii</tspan></text>
<text x="289.5" y="151.60" font-size="8.6" fill="#262626" stroke="#262626" stroke-width="0.22">stage <tspan font-weight="bold">iii</tspan></text>
<text x="567.1" y="151.80" font-size="8.6" fill="#262626" stroke="#262626" stroke-width="0.22">stage <tspan font-weight="bold">iii</tspan></text>
<text x="289.5" y="212.60" font-size="8.6" fill="#262626" stroke="#262626" stroke-width="0.22">stage <tspan font-weight="bold">iv</tspan></text>
<text x="567.1" y="212.90" font-size="8.6" fill="#262626" stroke="#262626" stroke-width="0.22">stage <tspan font-weight="bold">iv</tspan></text>
<text x="289.5" y="274.20" font-size="8.6" fill="#262626" stroke="#262626" stroke-width="0.22">stage <tspan font-weight="bold">v</tspan></text>
<text x="567.1" y="274.20" font-size="8.6" fill="#262626" stroke="#262626" stroke-width="0.22">stage <tspan font-weight="bold">v</tspan></text>
<text x="525.80" y="27.40" font-size="8.6" text-anchor="end" fill="#a3306f" stroke="#a3306f" stroke-width="0.22" font-weight="normal" >CW</text>
<text x="526.80" y="42.40" font-size="8.6" text-anchor="end" fill="#1fa856" stroke="#1fa856" stroke-width="0.22" font-weight="normal" >SH</text>
<text x="526.60" y="90.00" font-size="8.6" text-anchor="end" fill="#a3306f" stroke="#a3306f" stroke-width="0.22" font-weight="normal" >primary comb</text>
<text x="526.80" y="104.30" font-size="8.6" text-anchor="end" fill="#1fa856" stroke="#1fa856" stroke-width="0.22" font-weight="normal" >SF</text>
<text x="525.80" y="152.00" font-size="8.6" text-anchor="end" fill="#a3306f" stroke="#a3306f" stroke-width="0.22" font-weight="normal" >MI comb 1</text>
<text x="526.60" y="213.00" font-size="8.6" text-anchor="end" fill="#a3306f" stroke="#a3306f" stroke-width="0.22" font-weight="normal" >MI comb 2</text>
<text x="526.80" y="274.60" font-size="8.6" text-anchor="end" fill="#a3306f" stroke="#a3306f" stroke-width="0.22" font-weight="normal" >soliton crystal</text>
<text x="526.80" y="288.60" font-size="8.6" text-anchor="end" fill="#1fa856" stroke="#1fa856" stroke-width="0.22" font-weight="normal" >SH</text>
<defs><clipPath id="ce0"><rect x="558.9" y="15.6" width="119.10000000000005" height="60.800000000000004"/></clipPath><clipPath id="ce1"><rect x="558.9" y="76.4" width="119.10000000000005" height="61.5"/></clipPath><clipPath id="ce2"><rect x="558.9" y="137.9" width="119.10000000000005" height="60.79999999999998"/></clipPath><clipPath id="ce3"><rect x="558.9" y="198.7" width="119.10000000000005" height="61.69999999999999"/></clipPath><clipPath id="ce4"><rect x="558.9" y="260.4" width="119.10000000000005" height="60.80000000000001"/></clipPath></defs>
<line x1="618.90" y1="15.6" x2="618.90" y2="76.4" stroke="#dcdcdc" stroke-width="0.8"/>
<line x1="559.4" y1="35.87" x2="677.6" y2="35.87" stroke="#dcdcdc" stroke-width="0.8"/>
<line x1="559.4" y1="56.13" x2="677.6" y2="56.13" stroke="#dcdcdc" stroke-width="0.8"/>
<line x1="618.90" y1="76.4" x2="618.90" y2="137.9" stroke="#dcdcdc" stroke-width="0.8"/>
<line x1="559.4" y1="96.90" x2="677.6" y2="96.90" stroke="#dcdcdc" stroke-width="0.8"/>
<line x1="559.4" y1="117.40" x2="677.6" y2="117.40" stroke="#dcdcdc" stroke-width="0.8"/>
<line x1="618.90" y1="137.9" x2="618.90" y2="198.7" stroke="#dcdcdc" stroke-width="0.8"/>
<line x1="559.4" y1="158.17" x2="677.6" y2="158.17" stroke="#dcdcdc" stroke-width="0.8"/>
<line x1="559.4" y1="178.43" x2="677.6" y2="178.43" stroke="#dcdcdc" stroke-width="0.8"/>
<line x1="618.90" y1="198.7" x2="618.90" y2="260.4" stroke="#dcdcdc" stroke-width="0.8"/>
<line x1="559.4" y1="219.27" x2="677.6" y2="219.27" stroke="#dcdcdc" stroke-width="0.8"/>
<line x1="559.4" y1="239.83" x2="677.6" y2="239.83" stroke="#dcdcdc" stroke-width="0.8"/>
<line x1="618.90" y1="260.4" x2="618.90" y2="321.2" stroke="#dcdcdc" stroke-width="0.8"/>
<line x1="559.4" y1="280.67" x2="677.6" y2="280.67" stroke="#dcdcdc" stroke-width="0.8"/>
<line x1="559.4" y1="300.93" x2="677.6" y2="300.93" stroke="#dcdcdc" stroke-width="0.8"/>
<line x1="618.90" y1="15.6" x2="618.90" y2="18.8" stroke="#262626" stroke-width="0.9"/>
<line x1="618.90" y1="76.4" x2="618.90" y2="73.2" stroke="#262626" stroke-width="0.9"/>
<line x1="559.4" y1="35.87" x2="562.9" y2="35.87" stroke="#262626" stroke-width="0.9"/>
<line x1="677.6" y1="35.87" x2="674.1" y2="35.87" stroke="#262626" stroke-width="0.9"/>
<line x1="559.4" y1="56.13" x2="562.9" y2="56.13" stroke="#262626" stroke-width="0.9"/>
<line x1="677.6" y1="56.13" x2="674.1" y2="56.13" stroke="#262626" stroke-width="0.9"/>
<rect x="559.4" y="15.6" width="118.20000000000005" height="60.800000000000004" fill="none" stroke="#262626" stroke-width="1.0"/>
<line x1="618.90" y1="76.4" x2="618.90" y2="79.60000000000001" stroke="#262626" stroke-width="0.9"/>
<line x1="618.90" y1="137.9" x2="618.90" y2="134.70000000000002" stroke="#262626" stroke-width="0.9"/>
<line x1="559.4" y1="96.90" x2="562.9" y2="96.90" stroke="#262626" stroke-width="0.9"/>
<line x1="677.6" y1="96.90" x2="674.1" y2="96.90" stroke="#262626" stroke-width="0.9"/>
<line x1="559.4" y1="117.40" x2="562.9" y2="117.40" stroke="#262626" stroke-width="0.9"/>
<line x1="677.6" y1="117.40" x2="674.1" y2="117.40" stroke="#262626" stroke-width="0.9"/>
<rect x="559.4" y="76.4" width="118.20000000000005" height="61.5" fill="none" stroke="#262626" stroke-width="1.0"/>
<line x1="618.90" y1="137.9" x2="618.90" y2="141.1" stroke="#262626" stroke-width="0.9"/>
<line x1="618.90" y1="198.7" x2="618.90" y2="195.5" stroke="#262626" stroke-width="0.9"/>
<line x1="559.4" y1="158.17" x2="562.9" y2="158.17" stroke="#262626" stroke-width="0.9"/>
<line x1="677.6" y1="158.17" x2="674.1" y2="158.17" stroke="#262626" stroke-width="0.9"/>
<line x1="559.4" y1="178.43" x2="562.9" y2="178.43" stroke="#262626" stroke-width="0.9"/>
<line x1="677.6" y1="178.43" x2="674.1" y2="178.43" stroke="#262626" stroke-width="0.9"/>
<rect x="559.4" y="137.9" width="118.20000000000005" height="60.79999999999998" fill="none" stroke="#262626" stroke-width="1.0"/>
<line x1="618.90" y1="198.7" x2="618.90" y2="201.89999999999998" stroke="#262626" stroke-width="0.9"/>
<line x1="618.90" y1="260.4" x2="618.90" y2="257.2" stroke="#262626" stroke-width="0.9"/>
<line x1="559.4" y1="219.27" x2="562.9" y2="219.27" stroke="#262626" stroke-width="0.9"/>
<line x1="677.6" y1="219.27" x2="674.1" y2="219.27" stroke="#262626" stroke-width="0.9"/>
<line x1="559.4" y1="239.83" x2="562.9" y2="239.83" stroke="#262626" stroke-width="0.9"/>
<line x1="677.6" y1="239.83" x2="674.1" y2="239.83" stroke="#262626" stroke-width="0.9"/>
<rect x="559.4" y="198.7" width="118.20000000000005" height="61.69999999999999" fill="none" stroke="#262626" stroke-width="1.0"/>
<line x1="618.90" y1="260.4" x2="618.90" y2="263.59999999999997" stroke="#262626" stroke-width="0.9"/>
<line x1="618.90" y1="321.2" x2="618.90" y2="318.0" stroke="#262626" stroke-width="0.9"/>
<line x1="559.4" y1="280.67" x2="562.9" y2="280.67" stroke="#262626" stroke-width="0.9"/>
<line x1="677.6" y1="280.67" x2="674.1" y2="280.67" stroke="#262626" stroke-width="0.9"/>
<line x1="559.4" y1="300.93" x2="562.9" y2="300.93" stroke="#262626" stroke-width="0.9"/>
<line x1="677.6" y1="300.93" x2="674.1" y2="300.93" stroke="#262626" stroke-width="0.9"/>
<rect x="559.4" y="260.4" width="118.20000000000005" height="60.80000000000001" fill="none" stroke="#262626" stroke-width="1.0"/>
<polygon clip-path="url(#ce0)" points="559.00,76.40 559.00,15.39 559.30,15.39 559.30,15.34 559.60,15.34 559.60,14.65 559.90,14.65 559.90,16.46 560.20,16.46 560.20,15.38 560.50,15.38 560.50,45.73 560.80,45.73 560.80,45.46 561.10,45.46 561.10,50.64 561.40,50.64 561.40,59.64 561.70,59.64 561.70,60.80 562.00,60.80 562.00,62.40 562.30,62.40 562.30,59.59 562.60,59.59 562.60,61.69 562.90,61.69 562.90,60.35 563.20,60.35 563.20,63.06 564.20,63.06 564.20,58.48 565.20,58.48 565.20,61.62 566.40,61.62 566.40,61.53 567.20,61.53 567.20,57.73 568.20,57.73 568.20,62.76 569.20,62.76 569.20,62.89 570.20,62.89 570.20,61.64 571.20,61.64 571.20,62.88 572.20,62.88 572.20,62.89 573.00,62.89 573.00,58.30 574.00,58.30 574.00,63.19 575.50,63.19 575.50,60.15 577.00,60.15 577.00,62.73 578.00,62.73 578.00,59.03 579.00,59.03 579.00,61.22 580.20,61.22 580.20,61.89 581.00,61.89 581.00,59.49 582.00,59.49 582.00,62.93 583.50,62.93 583.50,58.81 584.50,58.81 584.50,62.49 585.50,62.49 585.50,61.73 586.70,61.73 586.70,62.77 587.50,62.77 587.50,61.57 588.70,61.57 588.70,61.60 589.50,61.60 589.50,59.64 590.30,59.64 590.30,61.34 591.30,61.34 591.30,61.66 592.30,61.66 592.30,62.47 593.50,62.47 593.50,63.19 594.70,63.19 594.70,63.19 596.20,63.19 596.20,61.23 597.00,61.23 597.00,62.84 598.20,62.84 598.20,58.31 599.20,58.31 599.20,62.07 600.20,62.07 600.20,63.09 601.70,63.09 601.70,63.08 602.90,63.08 602.90,59.59 603.70,59.59 603.70,61.61 604.70,61.61 604.70,61.16 605.90,61.16 605.90,61.78 606.70,61.78 606.70,59.25 607.70,59.25 607.70,59.85 608.50,59.85 608.50,61.24 609.50,61.24 609.50,61.22 610.30,61.22 610.30,58.34 611.10,58.34 611.10,59.92 612.10,59.92 612.10,61.74 612.90,61.74 612.90,62.26 613.70,62.26 613.70,59.62 615.20,59.62 615.20,59.87 616.00,59.87 616.00,60.86 616.80,60.86 616.80,61.71 618.00,61.71 618.00,61.45 619.00,61.45 619.00,61.06 619.80,61.06 619.80,60.74 620.80,60.74 620.80,61.95 621.80,61.95 621.80,62.26 622.80,62.26 622.80,62.61 623.60,62.61 623.60,62.64 624.60,62.64 624.60,61.65 625.80,61.65 625.80,62.10 626.80,62.10 626.80,60.66 627.80,60.66 627.80,58.69 628.60,58.69 628.60,62.93 629.60,62.93 629.60,60.80 630.60,60.80 630.60,62.13 631.60,62.13 631.60,62.19 633.10,62.19 633.10,62.35 634.10,62.35 634.10,58.58 634.90,58.58 634.90,62.20 636.10,62.20 636.10,63.04 636.90,63.04 636.90,62.33 637.90,62.33 637.90,60.57 638.90,60.57 638.90,62.32 640.10,62.32 640.10,63.62 640.90,63.62 640.90,63.20 642.10,63.20 642.10,63.15 643.10,63.15 643.10,60.52 644.10,60.52 644.10,60.47 645.10,60.47 645.10,63.68 645.90,63.68 645.90,62.17 646.90,62.17 646.90,63.11 647.90,63.11 647.90,63.32 648.70,63.32 648.70,63.12 649.50,63.12 649.50,62.54 650.50,62.54 650.50,61.09 651.30,61.09 651.30,63.10 652.80,63.10 652.80,60.83 654.00,60.83 654.00,63.25 654.80,63.25 654.80,63.81 656.00,63.81 656.00,64.43 657.00,64.43 657.00,63.46 658.00,63.46 658.00,63.52 659.00,63.52 659.00,60.33 660.00,60.33 660.00,64.57 661.20,64.57 661.20,64.60 662.00,64.60 662.00,65.03 663.20,65.03 663.20,64.49 664.40,64.49 664.40,64.34 665.20,64.34 665.20,64.84 666.00,64.84 666.00,64.82 666.80,64.82 666.80,65.83 668.00,65.83 668.00,65.47 669.00,65.47 669.00,65.87 670.20,65.87 670.20,65.22 671.40,65.22 671.40,66.49 672.40,66.49 672.40,67.09 673.40,67.09 673.40,66.95 674.90,66.95 674.90,67.32 675.90,67.32 675.90,67.60 676.90,67.60 676.90,67.24 677.90,67.24 677.90,68.03 679.40,68.03 677.90,76.40" fill="#0a70c0"/>
<line x1="559.4" y1="66.37" x2="677.6" y2="66.37" stroke="#1b2b3f" stroke-width="1.3" stroke-dasharray="4.6,5.1"/>
<polygon clip-path="url(#ce1)" points="559.00,137.90 559.00,77.08 559.30,77.08 559.30,76.17 559.60,76.17 559.60,75.70 559.90,75.70 559.90,75.40 560.20,75.40 560.20,75.84 560.50,75.84 560.50,90.55 560.80,90.55 560.80,111.15 561.10,111.15 561.10,117.14 561.40,117.14 561.40,120.77 561.70,120.77 561.70,123.20 562.00,123.20 562.00,123.44 562.30,123.44 562.30,123.20 562.60,123.20 562.60,123.68 562.90,123.68 562.90,122.84 563.20,122.84 563.20,124.26 564.20,124.26 564.20,122.84 565.20,122.84 565.20,122.77 566.20,122.77 566.20,123.32 567.20,123.32 567.20,121.75 568.00,121.75 568.00,121.00 569.20,121.00 569.20,123.97 570.00,123.97 570.00,119.17 571.20,119.17 571.20,122.19 572.00,122.19 572.00,124.01 573.20,124.01 573.20,124.42 574.20,124.42 574.20,123.60 575.00,123.60 575.00,123.69 576.20,123.69 576.20,123.24 577.20,123.24 577.20,124.56 578.40,124.56 578.40,120.14 579.90,120.14 579.90,124.14 581.40,124.14 581.40,119.88 582.40,119.88 582.40,124.13 583.20,124.13 583.20,123.10 584.20,123.10 584.20,123.26 585.00,123.26 585.00,123.52 586.00,123.52 586.00,122.51 587.00,122.51 587.00,121.87 588.00,121.87 588.00,123.82 589.00,123.82 589.00,124.15 589.80,124.15 589.80,124.84 590.80,124.84 590.80,123.14 592.00,123.14 592.00,124.35 592.80,124.35 592.80,123.78 593.80,123.78 593.80,119.96 594.60,119.96 594.60,123.40 595.60,123.40 595.60,123.80 596.80,123.80 596.80,123.26 597.80,123.26 597.80,124.48 599.00,124.48 599.00,123.61 600.00,123.61 600.00,123.50 601.00,123.50 601.00,123.32 602.00,123.32 602.00,122.95 603.00,122.95 603.00,123.85 604.00,123.85 604.00,123.82 605.50,123.82 605.50,121.19 606.50,121.19 606.50,123.37 607.70,123.37 607.70,120.83 608.70,120.83 608.70,122.91 609.50,122.91 609.50,119.99 610.50,119.99 610.50,122.97 611.50,122.97 611.50,123.72 612.50,123.72 612.50,123.71 613.50,123.71 613.50,119.39 614.50,119.39 614.50,122.75 615.50,122.75 615.50,124.04 616.70,124.04 616.70,119.52 617.90,119.52 617.90,123.34 619.10,123.34 619.10,123.33 620.30,123.33 620.30,124.16 621.30,124.16 621.30,122.73 622.30,122.73 622.30,124.25 623.50,124.25 623.50,120.97 625.00,120.97 625.00,122.11 626.00,122.11 626.00,123.66 627.00,123.66 627.00,123.40 627.80,123.40 627.80,123.95 628.80,123.95 628.80,124.18 629.80,124.18 629.80,121.93 631.30,121.93 631.30,124.08 632.80,124.08 632.80,124.18 633.80,124.18 633.80,123.24 635.30,123.24 635.30,124.40 636.50,124.40 636.50,123.00 637.30,123.00 637.30,121.10 638.30,121.10 638.30,123.75 639.30,123.75 639.30,123.53 640.10,123.53 640.10,124.20 641.30,124.20 641.30,123.97 642.80,123.97 642.80,123.95 643.80,123.95 643.80,123.49 644.60,123.49 644.60,124.21 645.40,124.21 645.40,123.25 646.90,123.25 646.90,124.10 647.90,124.10 647.90,125.39 648.90,125.39 648.90,123.63 649.90,123.63 649.90,124.93 650.70,124.93 650.70,120.86 652.20,120.86 652.20,120.75 653.40,120.75 653.40,125.49 654.40,125.49 654.40,121.85 655.60,121.85 655.60,122.55 657.10,122.55 657.10,121.91 657.90,121.91 657.90,125.17 658.90,125.17 658.90,125.15 659.70,125.15 659.70,125.47 660.50,125.47 660.50,125.63 661.50,125.63 661.50,125.36 662.50,125.36 662.50,125.52 663.50,125.52 663.50,123.35 665.00,123.35 665.00,125.37 666.20,125.37 666.20,126.23 667.40,126.23 667.40,125.34 668.40,125.34 668.40,124.37 669.40,124.37 669.40,127.96 670.40,127.96 670.40,127.82 671.20,127.82 671.20,128.65 672.00,128.65 672.00,128.05 673.20,128.05 673.20,128.15 674.00,128.15 674.00,123.67 675.50,123.67 675.50,128.16 677.00,128.16 677.00,128.14 678.50,128.14 677.90,137.90" fill="#0a70c0"/>
<line x1="559.4" y1="127.75" x2="677.6" y2="127.75" stroke="#1b2b3f" stroke-width="1.3" stroke-dasharray="4.6,5.1"/>
<polygon clip-path="url(#ce2)" points="559.00,198.70 559.00,140.44 559.30,140.44 559.30,140.84 559.60,140.84 559.60,140.26 559.90,140.26 559.90,139.77 560.20,139.77 560.20,139.30 560.50,139.30 560.50,154.15 560.80,154.15 560.80,167.02 561.10,167.02 561.10,173.42 561.40,173.42 561.40,174.58 561.70,174.58 561.70,176.83 562.00,176.83 562.00,178.23 562.30,178.23 562.30,178.61 562.60,178.61 562.60,174.33 562.90,174.33 562.90,176.78 563.20,176.78 563.20,179.06 564.00,179.06 564.00,179.00 565.00,179.00 565.00,173.45 566.50,173.45 566.50,156.61 568.00,156.61 568.00,159.65 568.80,159.65 568.80,170.20 569.60,170.20 569.60,176.09 570.60,176.09 570.60,183.04 571.80,183.04 571.80,184.26 572.80,184.26 572.80,184.05 574.30,184.05 574.30,181.99 575.30,181.99 575.30,183.57 576.30,183.57 576.30,184.24 577.50,184.24 577.50,183.33 578.50,183.33 578.50,184.26 579.50,184.26 579.50,181.72 580.70,181.72 580.70,184.10 582.20,184.10 582.20,184.61 583.20,184.61 583.20,184.33 584.40,184.33 584.40,181.99 585.40,181.99 585.40,182.19 586.40,182.19 586.40,184.93 587.20,184.93 587.20,184.30 588.20,184.30 588.20,182.13 589.20,182.13 589.20,182.71 590.40,182.71 590.40,184.76 591.40,184.76 591.40,184.19 592.20,184.19 592.20,185.74 593.70,185.74 593.70,182.76 594.90,182.76 594.90,185.95 595.70,185.95 595.70,183.49 597.20,183.49 597.20,181.68 598.70,181.68 598.70,185.27 600.20,185.27 600.20,185.01 601.40,185.01 601.40,184.51 602.40,184.51 602.40,185.11 603.90,185.11 603.90,184.51 604.90,184.51 604.90,183.05 605.70,183.05 605.70,185.15 606.90,185.15 606.90,181.75 607.70,181.75 607.70,184.53 609.20,184.53 609.20,183.55 610.20,183.55 610.20,185.99 611.00,185.99 611.00,181.53 611.80,181.53 611.80,184.67 612.60,184.67 612.60,182.37 614.10,182.37 614.10,184.94 615.10,184.94 615.10,184.83 616.60,184.83 616.60,179.41 617.60,179.41 617.60,180.87 618.80,180.87 618.80,185.29 620.30,185.29 620.30,181.18 621.50,181.18 621.50,185.28 622.30,185.28 622.30,184.47 623.80,184.47 623.80,184.59 625.00,184.59 625.00,185.26 626.20,185.26 626.20,184.87 627.20,184.87 627.20,184.67 628.20,184.67 628.20,181.05 629.40,181.05 629.40,184.98 630.40,184.98 630.40,182.18 631.40,182.18 631.40,185.36 632.40,185.36 632.40,181.62 633.40,181.62 633.40,184.21 634.60,184.21 634.60,181.23 635.40,181.23 635.40,185.54 636.60,185.54 636.60,185.38 637.60,185.38 637.60,184.46 638.60,184.46 638.60,185.58 640.10,185.58 640.10,185.34 640.90,185.34 640.90,185.81 642.10,185.81 642.10,184.90 643.10,184.90 643.10,185.94 644.10,185.94 644.10,186.57 645.30,186.57 645.30,185.43 646.10,185.43 646.10,184.96 647.60,184.96 647.60,185.21 648.60,185.21 648.60,186.24 650.10,186.24 650.10,182.67 651.60,182.67 651.60,186.20 652.40,186.20 652.40,186.43 653.20,186.43 653.20,187.06 654.20,187.06 654.20,186.31 655.00,186.31 655.00,186.02 656.50,186.02 656.50,186.20 657.50,186.20 657.50,186.19 658.30,186.19 658.30,185.05 659.80,185.05 659.80,187.71 661.00,187.71 661.00,182.51 662.00,182.51 662.00,187.17 663.50,187.17 663.50,186.64 664.50,186.64 664.50,187.88 665.70,187.88 665.70,186.97 666.70,186.97 666.70,188.31 667.90,188.31 667.90,188.18 668.90,188.18 668.90,188.75 669.90,188.75 669.90,189.32 670.90,189.32 670.90,185.90 671.70,185.90 671.70,188.74 672.50,188.74 672.50,186.80 673.50,186.80 673.50,190.62 674.30,190.62 674.30,190.84 675.80,190.84 675.80,190.74 676.80,190.74 676.80,190.70 678.00,190.70 677.90,198.70" fill="#0a70c0"/>
<line x1="559.4" y1="188.67" x2="677.6" y2="188.67" stroke="#1b2b3f" stroke-width="1.3" stroke-dasharray="4.6,5.1"/>
<polygon clip-path="url(#ce3)" points="559.00,260.40 559.00,202.53 559.30,202.53 559.30,201.41 559.60,201.41 559.60,200.95 559.90,200.95 559.90,201.49 560.20,201.49 560.20,202.45 560.50,202.45 560.50,207.80 560.80,207.80 560.80,218.47 561.10,218.47 561.10,217.72 561.40,217.72 561.40,218.49 561.70,218.49 561.70,218.55 562.00,218.55 562.00,219.78 562.30,219.78 562.30,220.22 562.60,220.22 562.60,219.66 562.90,219.66 562.90,218.65 563.20,218.65 563.20,220.48 564.20,220.48 564.20,220.99 565.00,220.99 565.00,216.53 566.20,216.53 566.20,219.27 567.00,219.27 567.00,220.08 568.50,220.08 568.50,224.98 569.70,224.98 569.70,226.99 570.90,226.99 570.90,225.68 571.90,225.68 571.90,229.55 572.90,229.55 572.90,229.43 574.40,229.43 574.40,230.98 575.20,230.98 575.20,230.44 576.00,230.44 576.00,230.40 576.80,230.40 576.80,230.72 577.60,230.72 577.60,227.24 578.40,227.24 578.40,230.15 579.60,230.15 579.60,227.39 580.60,227.39 580.60,229.72 581.40,229.72 581.40,233.75 582.90,233.75 582.90,232.36 583.90,232.36 583.90,230.71 584.70,230.71 584.70,234.05 585.90,234.05 585.90,233.82 586.70,233.82 586.70,233.63 587.70,233.63 587.70,234.21 588.70,234.21 588.70,229.41 590.20,229.41 590.20,234.61 591.20,234.61 591.20,234.99 592.70,234.99 592.70,234.78 593.50,234.78 593.50,235.60 594.50,235.60 594.50,234.51 595.70,234.51 595.70,233.60 596.70,233.60 596.70,233.52 597.70,233.52 597.70,230.59 598.70,230.59 598.70,227.78 599.70,227.78 599.70,233.08 600.50,233.08 600.50,230.98 601.50,230.98 601.50,228.02 603.00,228.02 603.00,229.53 604.20,229.53 604.20,230.29 605.20,230.29 605.20,230.37 606.00,230.37 606.00,229.87 607.00,229.87 607.00,227.31 608.20,227.31 608.20,222.28 609.00,222.28 609.00,225.86 610.00,225.86 610.00,225.78 611.20,225.78 611.20,225.68 612.40,225.68 612.40,219.42 613.90,219.42 613.90,220.65 614.90,220.65 614.90,216.66 616.10,216.66 616.10,218.04 617.30,218.04 617.30,216.98 618.30,216.98 618.30,212.82 619.10,212.82 619.10,216.90 620.60,216.90 620.60,218.05 621.60,218.05 621.60,215.62 622.40,215.62 622.40,219.56 623.60,219.56 623.60,220.07 624.60,220.07 624.60,224.73 626.10,224.73 626.10,226.67 627.10,226.67 627.10,222.34 627.90,222.34 627.90,227.14 628.90,227.14 628.90,226.94 630.40,226.94 630.40,229.07 631.40,229.07 631.40,226.24 632.40,226.24 632.40,228.59 633.60,228.59 633.60,230.40 634.60,230.40 634.60,230.86 636.10,230.86 636.10,230.65 637.60,230.65 637.60,231.74 638.40,231.74 638.40,232.61 639.40,232.61 639.40,233.74 640.90,233.74 640.90,233.32 641.70,233.32 641.70,229.39 642.50,229.39 642.50,235.10 644.00,235.10 644.00,236.04 645.20,236.04 645.20,235.33 646.70,235.33 646.70,236.62 648.20,236.62 648.20,234.45 649.20,234.45 649.20,236.54 650.40,236.54 650.40,234.73 651.60,234.73 651.60,237.69 652.80,237.69 652.80,234.00 653.80,234.00 653.80,237.33 654.80,237.33 654.80,237.43 655.60,237.43 655.60,237.61 656.80,237.61 656.80,239.68 658.30,239.68 658.30,239.41 659.80,239.41 659.80,240.97 660.80,240.97 660.80,237.38 662.00,237.38 662.00,241.22 663.50,241.22 663.50,240.83 664.70,240.83 664.70,241.08 665.70,241.08 665.70,241.87 666.90,241.87 666.90,237.94 668.40,237.94 668.40,242.28 669.20,242.28 669.20,242.40 670.20,242.40 670.20,242.95 671.40,242.95 671.40,243.48 672.20,243.48 672.20,245.00 673.40,245.00 673.40,241.36 674.60,241.36 674.60,243.69 675.40,243.69 675.40,243.89 676.90,243.89 676.90,240.80 677.90,240.80 677.90,245.58 678.70,245.58 677.90,260.40" fill="#0a70c0"/>
<line x1="559.4" y1="250.22" x2="677.6" y2="250.22" stroke="#1b2b3f" stroke-width="1.3" stroke-dasharray="4.6,5.1"/>
<polygon clip-path="url(#ce4)" points="559.00,321.20 559.00,261.23 559.30,261.23 559.30,260.44 559.60,260.44 559.60,260.32 559.90,260.32 559.90,260.62 560.20,260.62 560.20,260.45 560.50,260.45 560.50,290.61 560.80,290.61 560.80,295.49 561.10,295.49 561.10,300.69 561.40,300.69 561.40,305.27 561.70,305.27 561.70,307.71 562.00,307.71 562.00,307.19 562.30,307.19 562.30,307.59 562.60,307.59 562.60,307.29 562.90,307.29 562.90,307.05 563.20,307.05 563.20,308.77 564.20,308.77 564.20,303.22 565.20,303.22 565.20,307.64 566.70,307.64 566.70,307.88 567.90,307.88 567.90,306.02 568.70,306.02 568.70,308.24 569.70,308.24 569.70,307.93 570.70,307.93 570.70,307.85 571.90,307.85 571.90,309.07 572.90,309.07 572.90,307.29 573.90,307.29 573.90,308.31 574.90,308.31 574.90,303.30 576.40,303.30 576.40,304.54 577.60,304.54 577.60,308.15 578.60,308.15 578.60,307.94 579.40,307.94 579.40,304.71 580.20,304.71 580.20,308.81 581.40,308.81 581.40,303.20 582.40,303.20 582.40,305.18 583.40,305.18 583.40,306.55 584.40,306.55 584.40,306.52 585.90,306.52 585.90,303.61 586.90,303.61 586.90,307.20 588.40,307.20 588.40,307.89 589.20,307.89 589.20,309.07 590.70,309.07 590.70,307.93 592.20,307.93 592.20,308.43 593.00,308.43 593.00,308.15 593.80,308.15 593.80,308.31 594.80,308.31 594.80,307.88 595.80,307.88 595.80,308.23 596.80,308.23 596.80,308.20 597.60,308.20 597.60,309.15 599.10,309.15 599.10,308.69 600.10,308.69 600.10,308.68 601.30,308.68 601.30,307.32 602.30,307.32 602.30,307.36 603.10,307.36 603.10,309.08 604.30,309.08 604.30,305.59 605.10,305.59 605.10,305.35 606.10,305.35 606.10,307.78 607.10,307.78 607.10,307.65 608.10,307.65 608.10,307.09 608.90,307.09 608.90,308.22 609.90,308.22 609.90,307.80 610.90,307.80 610.90,306.95 612.10,306.95 612.10,305.06 613.30,305.06 613.30,306.83 614.30,306.83 614.30,303.45 615.30,303.45 615.30,308.50 616.10,308.50 616.10,306.81 617.10,306.81 617.10,308.19 618.10,308.19 618.10,304.68 619.60,304.68 619.60,307.86 620.80,307.86 620.80,307.15 621.80,307.15 621.80,307.34 623.00,307.34 623.00,306.91 624.20,306.91 624.20,307.57 625.00,307.57 625.00,304.83 626.50,304.83 626.50,307.70 627.30,307.70 627.30,308.26 628.80,308.26 628.80,304.85 630.00,304.85 630.00,306.78 631.50,306.78 631.50,307.31 633.00,307.31 633.00,306.83 634.20,306.83 634.20,308.25 635.40,308.25 635.40,307.54 636.40,307.54 636.40,306.04 637.60,306.04 637.60,307.18 638.60,307.18 638.60,304.90 640.10,304.90 640.10,308.04 641.60,308.04 641.60,303.92 642.60,303.92 642.60,308.10 644.10,308.10 644.10,309.03 644.90,309.03 644.90,305.35 646.40,305.35 646.40,307.76 647.60,307.76 647.60,308.38 649.10,308.38 649.10,308.75 649.90,308.75 649.90,306.72 650.90,306.72 650.90,309.36 651.90,309.36 651.90,308.51 653.10,308.51 653.10,309.63 654.60,309.63 654.60,308.89 655.60,308.89 655.60,308.17 656.80,308.17 656.80,308.36 657.80,308.36 657.80,310.12 659.00,310.12 659.00,309.16 660.50,309.16 660.50,309.23 661.50,309.23 661.50,308.63 663.00,308.63 663.00,310.75 664.50,310.75 664.50,309.42 665.50,309.42 665.50,309.97 666.70,309.97 666.70,311.20 668.20,311.20 668.20,307.64 669.20,307.64 669.20,311.61 670.20,311.61 670.20,310.77 671.40,310.77 671.40,311.15 672.40,311.15 672.40,311.33 673.90,311.33 673.90,311.65 675.10,311.65 675.10,312.07 676.60,312.07 676.60,313.24 677.60,313.24 677.60,313.24 679.10,313.24 677.90,321.20" fill="#0a70c0"/>
<line x1="559.4" y1="311.17" x2="677.6" y2="311.17" stroke="#1b2b3f" stroke-width="1.3" stroke-dasharray="4.6,5.1"/>
<line x1="589.2" y1="168.8" x2="577" y2="168.8" stroke="#555" stroke-width="1"/>
<polygon points="573,168.8 578.5,166.5 578.5,171.1" fill="#111"/>
<text x="593.00" y="172.10" font-size="8.6" text-anchor="start" fill="#262626" stroke="#262626" stroke-width="0.22" font-weight="normal" >beating noise</text>
<text x="567.40" y="245.90" font-size="8.6" text-anchor="start" fill="#e2ecf8" stroke="#e2ecf8" stroke-width="0.22" font-weight="normal" >beating noise</text>
<text x="559.40" y="332.70" font-size="8.6" text-anchor="middle" fill="#262626" stroke="#262626" stroke-width="0.22" font-weight="normal" >0</text>
<text x="618.90" y="332.70" font-size="8.6" text-anchor="middle" fill="#262626" stroke="#262626" stroke-width="0.22" font-weight="normal" >50</text>
<text x="678.40" y="332.70" font-size="8.6" text-anchor="middle" fill="#262626" stroke="#262626" stroke-width="0.22" font-weight="normal" >100</text>
<text x="618.80" y="345.50" font-size="8.6" text-anchor="middle" fill="#262626" stroke="#262626" stroke-width="0.22" font-weight="normal" >Frequency (MHz)</text>
<text transform="translate(551,168.5) rotate(-90)" font-size="8.6" text-anchor="middle" fill="#262626" stroke="#262626" stroke-width="0.22">RF power (10 dB/div)</text></svg></body></html>
